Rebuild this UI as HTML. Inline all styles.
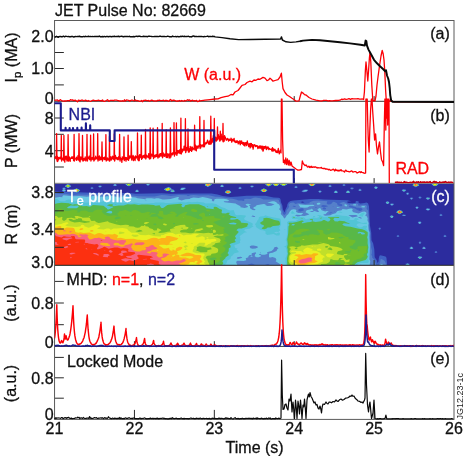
<!DOCTYPE html>
<html lang="en"><head><meta charset="utf-8"><title>JET Pulse No: 82669</title>
<style>
html,body{margin:0;padding:0;background:#fff;}
svg{display:block;font-family:'Liberation Sans', Arial, Helvetica, sans-serif;}
</style></head><body>
<svg width="466" height="459" viewBox="0 0 466 459">
<rect width="466" height="459" fill="#fff"/>
<defs>
<clipPath id="cpc"><rect x="54.55" y="183.30" width="399.45" height="82.00"/></clipPath>
<clipPath id="cpb"><rect x="54.55" y="98.30" width="399.45" height="85.00"/></clipPath>
<clipPath id="cpd"><rect x="54.55" y="264.30" width="399.45" height="83.10"/></clipPath>
</defs>
<g clip-path="url(#cpc)">
<rect x="54.55" y="183.30" width="399.45" height="82.00" fill="#2c2c9e"/>
<path fill="#3f62c4" fill-rule="evenodd" d="M112.9,185.3L114.6,183.7L115.6,183.7L117.1,185.3L116.6,185.9L114.6,186.1L113.6,185.9ZM125.0,184.3L125.6,183.7L127.1,183.3L130.2,183.3L131.6,183.6L132.3,184.3L130.6,185.9L128.6,186.3L127.6,186.1ZM145.8,184.3L146.6,183.6L149.6,183.7L150.2,184.3L148.6,185.8L147.6,185.9ZM204.8,185.3L204.8,184.3L205.6,183.5L206.8,183.3L210.2,183.3L211.6,183.6L212.3,184.3L210.6,185.8L207.6,187.1L206.8,186.3L205.6,186.1ZM264.8,184.3L265.5,183.6L266.9,183.3L270.2,183.3L272.5,184.0L274.6,183.3L278.5,183.5L279.5,184.3L277.5,186.1L274.5,186.1L272.5,184.6L270.5,185.9L268.9,186.3L268.5,186.7L266.5,185.8ZM279.6,184.3L280.5,183.5L281.8,183.3L286.5,183.5L287.5,184.3L286.5,185.1L285.4,185.3L284.5,186.1L282.5,186.1L281.8,185.3L280.5,185.1ZM308.2,184.3L309.5,183.4L314.5,183.5L315.6,184.3L313.5,186.1L310.5,186.1ZM342.2,185.3L343.5,183.8L344.5,183.9L345.8,185.3L344.5,186.0L343.5,186.1ZM412.2,185.3L413.5,183.7L415.0,183.3L417.5,183.5L419.3,185.3L418.5,186.1L417.3,186.3L416.5,187.1L415.5,187.2L414.5,186.3L413.5,186.2ZM431.3,184.3L432.5,183.5L433.6,183.3L437.5,183.5L438.5,184.3L436.5,186.1L433.5,186.1ZM64.7,186.3L66.6,184.5L69.6,184.5L71.3,186.3L70.6,187.1L69.3,187.3L68.6,188.0L67.6,188.1L66.8,187.3L65.6,187.1ZM219.9,186.3L221.6,184.6L222.6,184.6L224.2,186.3L223.6,186.9L221.6,187.1L220.6,187.0ZM328.0,186.3L329.5,184.7L330.5,184.8L332.0,186.3L330.5,187.1L329.5,187.1ZM97.9,186.3L98.6,185.7L99.6,185.5L101.6,185.7L102.1,186.3L100.6,187.6L99.6,187.7ZM249.9,186.3L250.6,185.7L251.6,185.5L253.6,185.7L254.1,186.3L252.6,187.6L251.6,187.7ZM294.0,187.3L295.5,185.7L296.5,185.8L298.0,187.3L296.5,188.1L295.5,188.1ZM90.2,188.3L91.6,186.8L92.6,186.9L93.8,188.3L92.6,189.1L91.6,189.1ZM163.7,189.3L164.6,188.5L165.6,188.4L166.6,187.5L168.0,187.3L168.6,186.7L169.1,187.3L170.6,187.6L172.2,189.3L173.6,189.6L175.2,191.3L174.6,192.0L172.7,192.3L172.6,192.6L172.4,192.3L170.6,191.9L169.6,190.8L166.6,191.2L164.6,190.1ZM170.1,190.3L170.6,190.8L170.9,190.3L170.6,190.2L170.1,190.3ZM238.0,188.3L239.6,186.7L240.6,186.8L242.0,188.3L240.6,189.1L239.6,189.1ZM373.9,187.3L374.5,186.7L375.5,186.5L377.5,186.7L378.2,187.3L376.5,189.1L375.5,189.1L374.3,188.3ZM54.5,191.4L62.5,191.9L62.7,191.3L61.7,190.3L62.9,189.3L62.0,188.3L62.5,187.8L64.6,187.5L66.0,188.3L65.1,189.3L66.3,190.3L65.4,191.3L65.6,191.9L73.6,192.3L73.8,191.3L72.8,190.3L73.6,189.5L74.8,189.3L75.6,188.6L76.6,188.4L77.6,188.6L78.6,189.4L79.6,189.5L80.3,190.3L78.6,192.3L77.6,192.3L104.6,193.2L129.6,193.1L135.6,193.7L161.6,193.2L170.6,193.8L192.6,193.4L211.6,193.6L217.6,194.5L222.6,195.9L230.6,197.1L238.6,196.6L246.6,195.7L265.5,195.8L273.5,197.5L278.5,197.8L279.9,198.3L280.5,199.3L281.0,202.3L282.3,205.3L282.9,209.3L284.5,212.6L285.6,209.3L287.1,206.3L287.4,204.3L288.6,202.3L290.5,201.1L293.5,200.4L310.5,199.0L318.5,198.9L323.5,199.4L347.4,200.3L351.2,201.3L347.5,201.6L347.1,202.3L348.5,203.1L352.5,203.3L354.5,202.9L356.1,202.3L355.5,201.3L356.5,200.9L358.7,201.3L358.3,202.3L359.5,203.2L360.5,203.5L364.5,203.1L366.5,202.4L368.0,203.3L369.0,206.3L369.9,225.3L371.2,232.3L371.5,240.3L373.1,243.3L374.3,249.3L374.7,257.3L376.8,260.3L377.5,263.1L378.5,261.5L378.8,258.3L379.5,255.7L380.5,255.2L385.5,256.6L386.2,257.3L386.5,258.3L387.2,265.3L54.5,265.3ZM75.4,192.3L75.5,192.3L75.6,192.3L75.5,192.3L75.4,192.3ZM301.0,202.3L302.5,202.8L304.5,202.3L302.5,201.6L301.5,201.7ZM359.2,209.3L359.6,209.4L360.0,209.3L359.6,209.2L359.2,209.3ZM179.9,189.3L181.6,187.6L184.6,187.5L185.6,187.7L186.1,188.3L184.6,189.6L182.6,190.1L180.6,190.0ZM350.0,188.3L350.5,187.8L351.5,187.5L353.5,187.8L354.0,188.3L352.5,189.4L351.5,189.6ZM260.1,190.3L261.5,189.4L262.5,189.3L263.5,188.4L264.5,188.5L265.5,189.3L266.5,189.4L267.6,190.3L265.5,192.1L262.5,192.1ZM358.0,190.3L359.5,188.7L360.5,188.8L362.0,190.3L360.5,191.1L359.5,191.1ZM134.8,191.3L136.6,189.6L137.6,189.6L139.2,191.3L138.6,192.1L135.6,192.1ZM301.3,191.3L303.5,189.8L304.5,189.6L307.5,189.6L308.3,190.3L306.5,191.9L303.5,192.2L302.5,192.1ZM401.6,190.3L402.5,189.5L405.5,189.5L406.4,190.3L404.5,192.0L403.5,192.0ZM224.6,192.3L225.6,191.0L227.6,190.3L229.6,190.4L231.4,192.3L230.6,193.1L229.4,193.3L228.6,194.1L227.6,194.1L226.7,193.3L225.6,193.2ZM318.0,191.3L319.5,190.5L320.5,190.5L322.0,191.3L320.5,192.8L319.5,192.9ZM333.6,192.3L335.5,190.5L336.5,190.6L338.2,192.3L337.5,192.9L334.5,193.1ZM345.7,192.3L347.5,190.5L348.5,190.5L350.3,192.3L349.5,193.1L346.5,193.1ZM405.9,193.3L406.5,192.7L408.5,192.6L409.2,193.3L408.9,194.3L407.5,195.1L406.3,194.3ZM418.2,197.3L419.5,196.5L420.5,196.5L421.8,197.3L420.5,198.7L419.5,198.8ZM409.6,198.3L410.5,197.6L412.5,197.6L413.4,198.3L411.5,199.9ZM425.6,198.3L426.5,197.5L429.5,197.5L430.4,198.3L428.5,200.0L427.5,200.0ZM385.5,202.3L386.5,201.5L388.5,201.5L389.5,202.3L389.2,203.3L388.5,203.9L387.5,204.1L386.5,204.0ZM389.8,204.3L390.5,203.6L393.5,203.6L394.2,204.3L392.5,205.8L391.5,205.9ZM415.1,207.3L416.5,206.5L417.5,206.5L418.9,207.3L417.5,209.0L416.5,209.0ZM425.4,209.3L426.5,208.5L429.5,208.5L430.5,209.3L428.5,210.7L427.5,210.8ZM396.0,212.3L397.5,210.6L398.9,210.3L399.5,209.6L400.2,210.3L401.5,210.5L403.3,212.3L402.5,213.1L401.3,213.3L400.5,214.0L399.5,214.2L398.1,213.3L396.5,212.9ZM439.2,215.3L440.5,213.8L441.5,213.9L442.8,215.3L441.5,216.1L440.5,216.1ZM401.9,215.3L402.5,214.7L403.5,214.4L405.5,214.7L406.2,215.3L405.5,215.9L402.5,215.9ZM389.8,216.3L390.5,215.6L392.5,215.5L394.0,216.3L392.5,218.1L391.5,218.1L390.0,217.3ZM417.8,222.3L418.5,221.6L420.5,221.5L421.5,222.3L421.2,223.3L420.5,224.0L419.5,224.1L418.1,223.3ZM378.3,228.3L379.5,227.6L380.5,227.8L381.1,228.3L380.6,229.3L379.5,229.9ZM396.4,236.3L397.5,235.0L398.5,235.1L399.5,236.3L398.5,237.0L397.5,237.0ZM443.2,236.3L444.5,234.8L445.5,234.9L446.8,236.3L445.5,237.1L444.5,237.1ZM418.6,242.3L419.5,241.6L420.5,241.6L421.4,242.3L420.5,243.9L419.5,243.9ZM409.2,248.3L410.5,246.8L411.5,246.5L412.5,247.0L413.6,248.3L412.5,249.1L410.5,249.1ZM421.9,248.3L423.5,246.6L424.5,246.7L426.1,248.3L425.5,248.9L424.5,249.1L422.5,248.9ZM434.4,252.3L435.5,251.0L436.5,251.1L437.5,252.3L436.5,253.0L435.5,253.0ZM417.3,257.3L418.5,256.5L421.5,256.5L422.5,257.3L420.5,259.0L419.5,259.1ZM405.1,264.3L405.5,263.8L407.5,263.2L409.5,263.7L410.1,264.3L408.6,265.3L406.6,265.3Z"/>
<path fill="#5580ca" fill-rule="evenodd" d="M113.4,185.3L114.6,184.1L115.6,184.2L116.5,185.3L115.6,185.9L114.6,185.9ZM125.5,184.3L127.6,183.3L129.8,183.3L131.9,184.3L129.6,186.0L128.6,186.1L127.6,185.9ZM146.2,184.3L147.6,183.7L148.6,183.7L149.8,184.3L148.6,185.2L147.6,185.3ZM205.0,185.3L205.0,184.3L205.6,183.8L207.1,183.3L209.8,183.3L211.9,184.3L209.6,186.0L207.6,186.8ZM265.2,184.3L267.3,183.3L269.9,183.3L272.2,184.3L269.5,186.0L268.5,186.2L267.5,186.0ZM272.7,184.3L273.5,183.7L274.8,183.3L277.2,183.3L278.5,183.7L279.3,184.3L277.5,185.8L275.5,186.1L274.5,185.9ZM279.9,184.3L282.1,183.3L285.1,183.3L287.2,184.3L284.5,185.8L283.5,186.0ZM308.6,184.3L309.5,183.6L310.7,183.3L313.3,183.3L314.5,183.6L315.4,184.3L313.5,185.9L311.5,186.1L310.5,185.9ZM412.7,185.3L413.5,184.2L415.5,183.3L417.5,183.7L419.1,185.3L418.5,185.8L415.5,187.0ZM431.7,184.3L432.5,183.7L433.8,183.3L436.2,183.3L437.5,183.7L438.3,184.3L436.5,185.8L434.5,186.1L433.5,185.8ZM65.0,186.3L66.6,184.7L67.6,184.5L69.6,184.8L71.0,186.3L68.6,187.7L67.6,187.8ZM220.3,186.3L221.6,184.9L222.6,185.0L223.7,186.3L222.6,186.9L221.6,186.9ZM328.6,186.3L329.5,185.2L330.5,185.4L331.4,186.3L330.5,186.8L329.5,186.8ZM342.8,185.3L343.5,184.5L344.5,184.6L345.2,185.3L344.5,185.7L343.5,185.8ZM98.4,186.3L99.6,185.8L100.6,185.8L101.6,186.3L100.6,187.1L99.6,187.1ZM250.4,186.3L251.6,185.8L252.6,185.8L253.6,186.3L252.6,187.1L251.6,187.1ZM294.6,187.3L295.5,186.2L296.5,186.4L297.4,187.3L296.5,187.8L295.5,187.8ZM238.6,188.3L239.6,187.2L240.6,187.4L241.4,188.3L240.6,188.8L239.6,188.8ZM374.3,187.3L375.5,186.6L376.5,186.7L377.7,187.3L376.5,188.8L375.5,188.8L374.8,188.3ZM64.6,187.8L65.4,188.3L64.6,189.2L64.1,189.3L65.9,190.3L64.6,191.4L63.5,191.6L62.1,190.3L63.5,189.3L62.6,188.3L63.5,187.8ZM90.8,188.3L91.6,187.5L92.6,187.6L93.2,188.3L92.6,188.7L91.6,188.8ZM164.0,189.3L166.6,187.8L168.6,187.3L170.6,188.0L171.6,189.3L173.6,190.1L174.6,191.3L173.6,192.0L171.6,191.9L170.6,191.3L171.5,190.3L170.6,190.0L167.6,191.1L166.6,191.0ZM180.3,189.3L181.6,187.9L184.6,187.8L185.6,188.3L182.6,189.9L181.6,189.9ZM350.6,188.3L351.5,187.8L352.5,187.8L353.4,188.3L352.5,188.9L351.5,189.0ZM73.1,190.3L76.6,188.5L80.1,190.3L78.6,191.6L76.6,192.3L75.6,192.1ZM260.6,190.3L263.5,188.6L264.5,188.7L267.4,190.3L265.5,191.9L263.5,192.1L262.5,191.9ZM358.6,190.3L359.5,189.2L360.5,189.4L361.4,190.3L360.5,190.8L359.5,190.8ZM135.3,191.3L136.6,189.9L137.6,190.0L138.8,191.3L137.6,192.0L136.6,192.0ZM301.9,191.3L305.5,189.7L307.5,189.9L307.9,190.3L306.5,191.4L304.5,191.8L302.5,191.8ZM401.9,190.3L402.5,189.8L403.5,189.6L405.5,189.8L406.1,190.3L404.5,191.5L403.5,191.6ZM224.9,192.3L226.6,190.6L227.6,190.4L229.6,190.6L231.2,192.3L228.6,193.9L227.6,193.9ZM318.6,191.3L319.5,190.8L320.5,190.8L321.4,191.3L320.5,192.2L319.5,192.4ZM333.9,192.3L335.5,190.8L336.5,191.0L337.7,192.3L336.5,192.9L334.5,192.8ZM346.0,192.3L347.5,190.8L348.5,190.8L350.0,192.3L349.5,192.7L347.5,193.0L346.5,192.8ZM406.4,193.3L407.5,192.8L408.8,193.3L408.3,194.3L407.5,194.8L406.9,194.3ZM54.5,193.3L61.5,193.9L65.6,193.8L72.6,195.2L78.6,194.6L85.6,194.8L97.6,194.3L104.6,195.4L112.6,195.0L119.6,195.8L123.6,195.0L126.6,194.8L138.6,196.3L147.6,196.6L151.6,196.4L154.6,196.6L161.6,195.1L165.6,195.3L170.6,196.0L175.6,195.6L178.6,195.0L186.4,195.3L187.6,195.9L188.6,195.9L190.5,195.3L193.6,195.0L199.6,195.4L208.6,195.2L215.6,196.7L218.6,196.7L229.6,198.6L232.6,198.7L236.6,199.7L238.6,200.6L241.6,200.6L243.6,201.1L244.4,200.3L244.1,199.3L244.6,199.0L246.6,198.7L250.6,199.0L253.6,197.8L255.6,197.4L260.5,198.2L263.5,199.5L277.5,199.5L278.5,199.7L278.9,200.3L279.1,201.3L280.7,204.3L281.4,206.3L281.4,208.3L282.4,211.3L282.7,213.3L283.5,214.5L284.5,215.0L286.1,213.3L286.6,210.3L288.4,208.3L289.2,206.3L288.5,205.3L288.9,204.3L290.5,202.7L293.5,202.6L295.5,204.0L298.5,203.1L304.5,203.9L309.8,203.3L309.5,202.3L313.5,200.7L317.5,200.6L327.4,201.3L326.6,203.3L327.5,204.2L328.5,204.6L330.5,204.2L332.0,203.3L332.5,202.3L333.5,201.8L334.5,201.9L337.0,203.3L337.7,205.3L340.5,206.3L341.5,206.3L342.5,205.3L341.5,204.1L339.1,203.3L343.5,202.1L344.5,202.3L349.5,204.9L350.0,204.3L356.5,203.5L357.5,203.8L358.1,204.3L358.5,205.7L363.5,204.7L365.5,205.0L366.5,205.5L367.0,206.3L366.6,208.3L366.8,209.3L368.0,210.3L368.8,218.3L368.7,220.3L369.2,223.3L369.1,225.3L369.5,230.3L370.3,233.3L370.2,236.3L370.5,241.6L371.1,244.3L371.1,247.3L371.9,250.3L371.9,253.3L371.4,254.3L371.6,255.3L372.3,256.3L372.0,257.3L374.6,260.3L376.4,265.3L269.9,265.3L268.5,264.1L267.5,264.0L264.3,265.3L256.7,265.3L254.6,264.8L252.6,263.7L251.6,263.6L248.6,264.3L247.3,265.3L54.5,265.3ZM312.6,203.3L313.6,203.4L314.3,203.3L313.6,203.1L312.6,203.3ZM321.0,206.3L322.5,207.0L324.5,207.2L328.1,206.3L326.5,205.4L323.5,205.1L322.1,205.3ZM292.4,206.3L294.5,206.9L295.5,206.8L296.1,206.3L293.5,205.8ZM331.9,206.3L333.5,206.6L333.8,206.3ZM349.1,206.3L349.3,207.3L353.5,208.0L355.5,208.7L356.0,209.3L359.5,211.0L360.5,211.1L361.5,210.6L362.6,209.3L361.7,208.3L358.5,207.7L356.5,207.7L356.2,207.3L350.5,205.4L349.5,205.5ZM315.1,207.3L315.5,208.0L317.3,207.3ZM303.2,208.3L301.3,208.3L298.5,209.3L298.4,211.3L300.5,211.6L303.5,210.6L303.9,210.3ZM322.5,208.3L323.0,209.3L324.5,209.6L325.9,209.3L326.1,208.3L324.5,207.4L323.5,207.4ZM333.7,211.3L334.6,211.5L334.9,211.3L334.6,211.1L333.7,211.3ZM332.7,212.3L330.9,212.3L328.8,213.3L331.0,213.3L331.5,212.7ZM418.8,197.3L419.5,196.8L420.5,196.9L421.2,197.3L420.5,198.0L419.5,198.1ZM410.1,198.3L411.5,197.8L412.9,198.3L411.5,199.4ZM425.9,198.3L426.5,197.8L427.5,197.6L429.5,197.8L430.1,198.3L428.5,199.5L427.5,199.6ZM296.6,202.3L297.6,202.3L297.6,202.3L297.6,202.4L296.6,202.3L296.2,202.3L296.6,202.3ZM385.9,202.3L386.5,201.8L387.5,201.6L388.5,201.8L389.1,202.3L388.7,203.3L387.5,204.0L386.5,203.6ZM390.2,204.3L391.5,203.7L392.5,203.7L393.8,204.3L392.5,205.2L391.5,205.3ZM415.7,207.3L416.5,206.7L417.5,206.8L418.3,207.3L417.5,208.6L416.5,208.7ZM425.9,209.3L426.5,208.8L427.5,208.6L429.5,208.8L430.1,209.3L428.5,210.2L427.5,210.2ZM396.5,212.3L397.5,211.0L399.5,210.1L401.5,210.7L403.0,212.3L399.5,214.0ZM402.4,215.3L403.5,214.7L405.6,215.3L404.5,215.8ZM439.8,215.3L440.5,214.5L441.5,214.6L442.2,215.3L441.5,215.7L440.5,215.8ZM390.2,216.3L391.5,215.6L392.5,215.7L393.4,216.3L392.5,217.7L391.5,217.9L390.6,217.3ZM418.2,222.3L419.5,221.7L420.5,221.8L421.2,222.3L420.5,223.5L419.5,223.9L418.7,223.3ZM379.5,227.9L380.4,228.3L379.5,229.5L379.0,228.3ZM397.0,236.3L397.5,235.7L398.5,235.8L399.0,236.3L397.5,236.7ZM443.8,236.3L444.5,235.5L445.5,235.6L446.2,236.3L445.5,236.7L444.5,236.8ZM419.0,242.3L419.5,241.9L421.0,242.3L420.5,243.3L419.5,243.4ZM413.2,248.3L412.5,248.8L410.5,248.8L409.8,248.3L411.5,246.8ZM422.4,248.3L423.5,247.1L424.5,247.2L425.5,248.3L424.5,248.9L423.5,248.9ZM435.0,252.3L435.5,251.7L436.5,251.8L437.0,252.3L435.5,252.7ZM417.8,257.3L418.5,256.7L419.5,256.6L421.5,256.8L422.2,257.3L420.5,258.7L419.5,258.7ZM380.5,259.2L381.5,258.9L384.5,260.8L385.5,262.8L386.0,264.3L385.9,265.3L379.2,265.3L379.2,264.3L380.1,262.3ZM405.7,264.3L407.5,263.5L409.5,264.3L408.2,265.3L407.0,265.3Z"/>
<path fill="#6ac8e3" fill-rule="evenodd" d="M125.8,184.3L127.9,183.3L129.4,183.3L131.6,184.3L129.6,185.8L128.6,186.0L127.6,185.6ZM146.7,184.3L147.6,184.0L149.3,184.3L148.6,184.8L147.6,184.9ZM205.3,185.3L205.6,184.0L207.4,183.3L209.4,183.3L211.5,184.3L209.6,185.8L207.6,186.5ZM265.6,184.3L267.7,183.3L269.5,183.3L271.7,184.3L269.5,185.8L268.5,186.1L267.5,185.8ZM273.0,184.3L275.1,183.3L276.9,183.3L279.0,184.3L277.5,185.5L275.5,186.0L274.5,185.6ZM280.2,184.3L282.4,183.3L284.8,183.3L286.9,184.3L283.5,185.9ZM308.9,184.3L311.0,183.3L313.0,183.3L315.1,184.3L313.5,185.6L311.5,186.0L310.5,185.7ZM412.9,185.3L414.5,183.7L415.5,183.4L417.5,183.9L418.8,185.3L415.5,186.8ZM432.0,184.3L434.1,183.3L435.9,183.3L438.0,184.3L436.5,185.5L434.5,185.9L433.5,185.6ZM65.3,186.3L66.6,185.0L67.6,184.6L69.6,185.0L70.7,186.3L68.6,187.4L67.6,187.5ZM113.9,185.3L114.6,184.5L115.6,184.6L116.1,185.3L115.6,185.6ZM220.7,186.3L221.6,185.3L222.6,185.4L223.3,186.3L222.6,186.7L221.6,186.7ZM343.3,185.3L343.5,185.0L344.7,185.3ZM98.9,186.3L99.6,186.0L101.1,186.3L100.6,186.7L99.6,186.7ZM250.9,186.3L251.6,186.0L253.1,186.3L252.6,186.7L251.6,186.7ZM329.1,186.3L329.5,185.8L330.5,185.8L331.0,186.3L329.5,186.6ZM295.1,187.3L295.5,186.8L296.5,186.8L297.0,187.3L295.5,187.6ZM374.7,187.3L375.5,186.8L376.5,186.9L377.3,187.3L376.5,188.5L375.5,188.6ZM63.1,188.3L63.5,188.0L65.0,188.3L64.6,188.8L63.5,188.8ZM91.3,188.3L91.6,188.0L92.7,188.3ZM164.3,189.3L168.6,187.5L170.5,188.3L171.3,189.3L167.6,191.0L166.6,190.8ZM180.7,189.3L181.6,188.3L184.6,188.0L185.1,188.3L182.6,189.7L181.6,189.7ZM239.1,188.3L239.6,187.8L240.6,187.8L241.0,188.3L239.6,188.6ZM351.2,188.3L352.8,188.3L351.5,188.5ZM73.5,190.3L76.6,188.7L79.8,190.3L77.6,192.0L76.6,192.2L75.6,191.9ZM260.9,190.3L263.5,188.8L264.5,188.9L267.1,190.3L265.5,191.7L263.5,192.0L262.5,191.7ZM62.4,190.3L63.5,189.6L64.6,189.7L65.6,190.3L64.6,191.0L63.5,191.1ZM135.7,191.3L136.6,190.3L137.6,190.4L138.3,191.3L137.6,191.7L136.6,191.7ZM170.9,191.3L172.6,189.9L174.3,191.3L172.6,191.9ZM302.3,191.3L305.5,189.9L307.6,190.3L306.5,191.0L304.5,191.6ZM359.1,190.3L359.5,189.8L360.5,189.8L361.0,190.3L359.5,190.6ZM402.3,190.3L403.5,189.8L405.7,190.3L404.5,191.1L403.5,191.2ZM225.1,192.3L226.6,190.8L227.6,190.5L229.6,190.8L230.9,192.3L228.6,193.6L227.6,193.7ZM319.1,191.3L319.5,191.0L321.0,191.3L320.5,191.8L319.5,191.8ZM334.3,192.3L335.5,191.0L336.5,191.4L337.3,192.3L336.5,192.7L335.5,192.8ZM346.3,192.3L347.5,191.0L348.5,191.1L349.7,192.3L348.5,192.8L347.5,192.8ZM407.5,193.0L408.2,193.3L407.5,194.5L407.0,193.3ZM54.5,197.7L59.5,197.1L62.5,197.3L62.3,196.3L63.5,195.3L72.6,196.3L79.6,196.0L86.6,196.7L93.6,196.1L103.6,196.8L106.6,196.3L112.6,196.0L119.6,197.4L123.6,196.3L126.6,196.1L130.6,197.0L135.6,197.5L137.6,198.3L143.6,198.9L144.6,199.3L146.6,198.3L151.6,198.2L154.6,198.8L156.1,198.3L158.6,198.2L162.6,199.6L164.6,199.6L170.6,198.9L177.6,197.0L179.2,197.3L178.4,198.3L178.1,199.3L181.6,200.5L185.6,199.3L189.6,199.1L190.6,198.3L193.6,197.6L198.6,197.9L202.6,197.1L207.6,198.0L212.1,199.3L211.8,200.3L212.6,201.2L214.0,201.3L214.5,199.3L216.6,198.8L223.6,198.8L226.5,199.3L229.0,200.3L228.6,200.9L227.6,201.2L223.6,201.2L224.6,202.3L235.6,203.4L236.6,204.3L240.5,206.3L240.4,207.3L244.6,208.1L247.5,207.3L248.0,206.3L246.1,205.3L245.5,204.3L247.6,203.7L251.4,204.3L249.6,204.8L248.9,205.3L250.1,206.3L250.0,208.3L252.6,209.9L254.6,210.3L255.7,209.3L254.6,209.1L253.2,208.3L253.7,207.3L256.0,206.3L256.5,205.2L263.5,204.0L265.3,204.3L265.6,205.3L267.5,206.0L271.5,205.7L274.5,204.3L267.1,202.3L269.5,202.1L272.3,201.3L274.1,201.3L276.5,202.3L276.9,203.3L278.5,203.9L279.5,205.0L280.1,207.3L279.1,209.3L280.5,210.5L281.2,212.3L280.8,213.3L281.0,214.3L282.9,216.3L284.1,218.3L284.5,218.6L285.5,217.6L286.8,215.3L288.2,214.3L289.9,211.3L291.5,209.8L293.5,209.2L295.5,209.5L296.5,210.2L295.9,211.3L296.6,212.3L298.5,212.9L302.5,212.9L303.2,213.3L301.5,214.8L300.5,215.1L296.5,214.8L294.9,215.3L297.5,216.4L299.7,216.3L300.5,215.8L304.5,216.1L308.5,214.8L309.3,214.3L305.5,212.3L306.6,210.3L311.2,209.3L311.5,208.5L313.5,210.3L312.5,210.9L309.3,211.3L311.5,212.1L312.5,212.0L314.5,211.1L317.5,212.1L318.5,211.9L319.0,211.3L317.7,210.3L317.5,209.3L319.5,208.1L320.5,208.3L321.6,210.3L324.5,211.3L325.5,211.4L326.5,211.0L328.9,211.3L327.5,212.0L325.5,214.3L323.5,214.3L323.8,215.3L325.5,215.8L330.5,215.2L332.1,214.3L335.6,213.3L337.5,210.9L341.5,210.3L342.5,209.1L346.5,209.5L349.5,208.7L351.5,208.6L352.8,209.3L352.2,210.3L352.4,211.3L353.5,212.3L358.5,213.5L362.5,211.8L364.5,211.6L366.1,212.3L366.5,213.3L366.2,214.3L365.2,215.3L365.5,215.8L366.5,215.9L367.7,218.3L367.4,220.3L368.6,223.3L368.2,225.3L368.6,230.3L369.5,232.3L369.3,236.3L369.9,246.3L369.4,259.3L370.3,261.3L369.7,265.3L363.0,265.3L360.5,264.8L359.5,265.3L279.7,265.3L280.2,264.3L275.6,261.3L276.3,260.3L276.3,259.3L275.5,258.0L272.5,256.9L270.5,257.4L269.0,257.3L269.0,254.3L269.5,253.3L272.5,252.8L276.5,250.9L277.3,249.3L278.5,248.3L276.5,246.7L274.4,247.3L273.5,249.3L271.5,251.1L266.9,252.3L267.7,253.3L266.5,254.2L264.5,254.7L261.5,254.7L260.5,253.7L258.8,254.3L259.5,254.9L260.5,255.0L261.0,256.3L258.8,257.3L256.5,257.3L254.7,256.3L255.1,254.3L256.2,253.3L255.6,252.3L251.6,253.3L251.9,254.3L251.6,254.8L249.3,255.3L248.4,256.3L248.4,257.3L245.7,258.3L246.3,260.3L243.6,261.0L237.6,260.7L236.6,261.3L236.2,262.3L236.4,263.3L237.3,264.3L236.8,265.3L54.5,265.3ZM145.2,200.3L146.7,200.3L145.6,199.6ZM348.5,215.3L352.5,217.5L354.5,216.9L357.5,216.6L357.7,216.3L356.9,215.3L355.5,215.0L349.5,214.9ZM251.3,216.3L253.6,217.0L254.6,216.9L255.3,216.3L252.6,215.6ZM358.0,217.3L360.5,218.5L362.3,218.3L360.5,217.2L358.5,217.0ZM284.4,229.3L284.5,229.6L285.6,229.3ZM249.8,246.3L249.9,247.3L250.6,248.2L252.6,248.7L255.6,248.4L258.2,247.3L257.1,246.3L253.6,245.5L251.6,245.6ZM260.1,252.3L260.6,252.8L261.0,252.3L260.6,251.9L260.1,252.3ZM236.7,258.3L237.6,258.8L238.6,258.8L241.6,258.0L242.3,257.3L240.6,256.7L237.4,257.3ZM419.3,197.3L420.7,197.3L419.5,197.6ZM411.6,198.1L412.2,198.3L411.5,198.7L410.6,198.3L411.6,198.1ZM426.3,198.3L427.5,197.8L429.7,198.3L428.5,199.1L427.5,199.2ZM386.2,202.3L387.5,201.8L388.8,202.3L388.3,203.3L387.5,203.8L386.7,203.3ZM316.9,203.3L318.5,202.7L319.5,202.8L320.4,203.3L320.2,204.3L318.5,204.8L317.5,204.7L316.8,204.3ZM298.5,204.3L305.5,204.9L312.5,204.8L314.5,205.3L313.5,205.9L309.5,206.2L307.5,207.5L304.5,207.7L299.6,207.3L300.0,206.3L298.9,205.3ZM344.5,204.5L345.5,204.2L347.3,205.3L346.5,206.4L345.5,206.2L344.3,205.3ZM352.9,205.3L353.5,204.3L356.0,204.3L356.0,205.3L355.5,205.5ZM390.7,204.3L391.5,203.9L393.3,204.3L392.5,204.8L391.5,204.9ZM361.4,207.3L361.5,206.2L363.5,205.9L365.1,206.3L364.5,207.5ZM336.5,207.3L337.5,206.9L340.3,207.3L337.5,208.0ZM416.1,207.3L416.5,207.0L417.9,207.3L417.5,208.2L416.5,208.3ZM426.2,209.3L427.5,208.8L429.8,209.3L428.5,209.9L427.5,209.9ZM396.7,212.3L397.6,211.3L399.5,210.4L401.5,211.0L402.7,212.3L399.5,213.9ZM403.6,215.1L404.6,215.1L404.9,215.3L404.6,215.5L403.6,215.5L403.1,215.3L403.6,215.1ZM440.3,215.3L440.5,215.0L441.7,215.3ZM390.5,216.3L391.5,215.8L393.1,216.3L392.5,217.4L391.5,217.7L391.0,217.3ZM420.8,222.3L420.3,223.3L419.5,223.6L419.0,223.3L418.6,222.3L419.5,221.9ZM444.3,236.3L444.5,236.0L445.7,236.3ZM419.6,242.3L420.1,242.3L419.5,242.4L419.5,242.3L419.6,242.3ZM412.8,248.3L411.5,248.7L410.2,248.3L411.5,247.0ZM422.9,248.3L423.5,247.5L424.5,247.6L425.1,248.3L424.5,248.7ZM250.1,256.3L251.6,255.6L252.9,256.3L251.6,256.7ZM418.1,257.3L419.5,256.7L421.9,257.3L420.5,258.3L419.5,258.4ZM380.4,264.3L381.5,263.9L382.7,264.3L382.7,265.3L380.5,265.3ZM406.0,264.3L407.5,263.8L409.2,264.3L407.8,265.3Z"/>
<path fill="#52c4d6" fill-rule="evenodd" d="M126.2,184.3L128.3,183.3L129.0,183.3L131.2,184.3L129.6,185.6L128.6,185.8ZM147.6,184.2L148.6,184.2L148.8,184.3L148.6,184.5L147.6,184.5L147.3,184.3L147.6,184.2ZM205.5,185.3L205.6,184.3L207.7,183.3L209.2,183.3L211.3,184.3L209.6,185.7L207.6,186.2ZM265.8,184.3L267.9,183.3L269.3,183.3L271.4,184.3L269.5,185.7L268.5,186.0ZM273.2,184.3L275.3,183.3L276.7,183.3L278.8,184.3L276.5,185.8L275.5,185.8ZM280.6,184.3L282.7,183.3L284.5,183.3L286.6,184.3L283.5,185.7ZM309.1,184.3L311.2,183.3L312.8,183.3L314.9,184.3L313.5,185.4L311.5,185.9ZM413.1,185.3L413.9,184.3L415.5,183.5L417.5,184.2L418.5,185.3L415.5,186.6ZM432.3,184.3L434.4,183.3L435.6,183.3L437.7,184.3L435.5,185.8L434.5,185.8ZM65.6,186.3L66.6,185.2L67.6,184.8L69.6,185.3L70.4,186.3L68.6,187.1L67.6,187.2ZM114.3,185.3L114.6,185.0L115.7,185.3ZM221.1,186.3L221.6,185.8L222.6,185.9L222.9,186.3ZM375.1,187.3L375.5,187.0L376.9,187.3L376.5,188.2L375.5,188.3ZM164.6,189.3L168.6,187.6L170.2,188.3L171.0,189.3L167.6,190.9ZM73.7,190.3L76.6,188.8L79.5,190.3L77.6,191.8L76.6,192.0L75.6,191.8ZM181.1,189.3L181.6,188.8L182.6,188.9L182.9,189.3ZM261.1,190.3L263.5,189.0L264.5,189.1L266.9,190.3L265.5,191.4L263.5,191.9ZM63.0,190.3L63.5,190.0L65.1,190.3L63.5,190.7ZM171.3,191.3L172.6,190.1L173.9,191.3L172.6,191.7ZM305.0,190.3L307.1,190.3L305.5,190.7ZM402.7,190.3L403.5,190.0L405.3,190.3L404.5,190.8L403.5,190.9ZM136.1,191.3L136.6,190.8L137.6,190.9L137.9,191.3L136.6,191.5ZM225.3,192.3L226.6,191.0L227.6,190.6L229.6,191.0L230.7,192.3L228.6,193.4L227.6,193.5ZM334.7,192.3L335.5,191.3L337.0,192.3L335.5,192.6ZM346.7,192.3L347.5,191.3L348.5,191.4L349.3,192.3L347.5,192.6ZM426.7,198.3L427.5,198.0L429.3,198.3L428.5,198.8L427.5,198.9ZM54.5,265.3L54.5,199.1L57.6,199.3L59.5,200.9L61.4,201.3L65.4,201.3L65.7,200.3L68.6,199.6L71.6,199.8L73.6,201.2L74.6,201.5L79.6,200.4L80.6,200.7L82.3,202.3L84.6,202.7L89.6,202.5L96.6,203.0L104.6,200.9L105.6,201.3L105.8,202.3L106.6,202.5L109.6,202.5L111.6,202.0L114.6,202.0L122.6,203.2L124.6,203.0L130.3,203.3L134.6,202.6L139.3,203.3L143.6,203.5L153.6,203.0L155.6,202.6L163.6,202.5L165.6,202.9L170.6,203.1L180.6,202.1L185.6,202.5L188.6,201.7L191.6,202.2L195.6,202.1L197.6,201.7L198.6,202.1L203.6,202.5L205.6,203.4L212.6,203.3L216.5,204.3L221.6,207.3L224.6,208.0L227.6,209.7L230.6,210.4L233.6,210.1L235.2,214.3L236.6,215.3L240.6,214.9L245.6,215.5L246.0,216.3L244.1,218.3L244.6,219.7L252.4,223.3L253.0,224.3L252.0,225.3L253.6,226.3L249.6,228.7L245.1,229.3L244.3,230.3L244.6,231.1L247.1,232.3L244.6,232.5L239.5,236.3L240.3,237.3L240.1,238.3L240.6,240.3L239.8,241.3L240.3,242.3L239.7,243.3L234.4,245.3L234.8,247.3L235.6,248.2L237.8,248.3L236.6,248.9L236.4,249.3L238.6,251.3L238.6,252.3L234.6,253.2L233.6,254.1L232.9,255.3L231.4,256.3L230.7,257.3L230.7,258.3L230.1,259.3L227.5,260.3L226.5,263.3L224.6,265.3ZM386.6,202.3L387.5,202.0L388.4,202.3L388.0,203.3L387.5,203.6L387.1,203.3ZM391.6,204.2L392.6,204.2L392.8,204.3L392.6,204.5L391.5,204.5L391.3,204.3L391.6,204.2ZM303.6,206.3L303.7,206.3L303.6,206.3L303.3,206.3L303.6,206.3ZM416.6,207.2L417.5,207.3L416.5,207.5L416.5,207.3L416.6,207.2ZM426.6,209.3L427.5,209.1L429.3,209.3L427.5,209.6ZM291.2,213.3L291.5,211.8L292.5,211.0L294.5,213.1L295.6,213.3L292.5,213.8L291.5,213.7ZM396.9,212.3L397.8,211.3L399.5,210.5L401.5,211.2L402.5,212.3L399.5,213.7ZM321.6,212.3L321.6,212.3L321.6,212.3L321.5,212.3L321.6,212.3ZM338.2,212.3L339.5,211.6L342.5,212.3L341.5,212.8ZM363.5,212.5L364.8,213.3L363.1,215.3L363.1,216.3L362.5,216.7L359.9,216.3L359.1,215.3L361.4,213.3ZM258.9,217.3L260.5,216.4L263.8,216.3L265.5,215.2L268.2,216.3L272.5,217.3L279.5,218.4L280.5,219.1L281.2,224.3L279.1,228.3L280.4,230.3L278.9,231.3L278.5,232.1L276.5,231.8L274.4,232.3L274.5,232.7L276.5,233.6L278.5,232.4L279.5,232.7L280.0,233.3L279.5,235.3L278.5,235.6L276.5,235.4L273.5,234.0L267.5,235.1L266.5,234.6L265.3,233.3L265.6,232.3L265.4,231.3L262.9,230.3L260.5,229.9L256.2,227.3L255.7,226.3L255.8,225.3L254.9,224.3L256.6,222.3L257.5,220.2L258.6,219.3ZM274.6,215.3L275.6,215.2L275.9,215.3L275.6,215.4L274.6,215.3L274.4,215.3L274.6,215.3ZM287.0,222.3L288.5,221.1L295.5,220.9L298.8,219.3L292.5,218.9L291.5,217.3L292.5,216.3L293.5,215.9L297.5,217.3L301.5,216.9L303.5,217.2L304.5,217.7L305.5,218.9L306.5,219.2L313.5,217.4L316.5,218.0L319.0,217.3L319.0,216.3L317.1,215.3L317.5,215.1L320.7,215.3L322.2,216.3L324.5,217.2L328.5,216.5L333.5,216.2L336.5,214.7L342.5,215.8L346.5,216.0L350.0,217.3L350.0,218.3L348.9,219.3L350.5,219.9L353.5,219.9L354.4,219.3L354.7,218.3L355.5,217.9L357.5,218.2L359.1,219.3L356.6,220.3L357.5,221.3L361.5,222.8L363.5,222.9L366.5,222.5L367.2,223.3L366.5,223.9L364.5,224.0L359.5,223.2L357.5,223.8L356.3,225.3L357.8,226.3L358.6,227.3L359.5,227.5L362.4,227.3L362.8,226.3L364.5,225.7L366.5,225.8L367.1,226.3L366.9,227.3L366.2,228.3L368.5,231.9L368.8,233.3L368.6,236.3L369.1,246.3L368.5,254.3L368.7,256.3L368.2,259.3L368.8,261.3L368.7,262.3L367.5,262.9L360.5,263.0L358.5,263.8L356.9,265.3L284.6,265.3L285.5,265.2L286.1,264.3L285.5,262.3L285.7,260.3L285.4,258.3L286.5,256.1L287.0,253.3L286.4,249.3L285.5,246.9L283.7,246.3L285.5,246.0L286.5,244.9L286.6,241.3L285.7,240.3L285.8,239.3L286.7,237.3L287.0,233.3L287.0,227.3L287.5,225.3ZM312.8,216.3L314.5,215.9L315.5,216.3L314.5,217.0L313.5,217.2ZM392.7,216.3L392.0,217.3L391.5,217.5L390.9,216.3L391.5,216.0ZM420.3,222.3L419.8,223.3L419.4,223.3L419.1,222.3ZM412.4,248.3L411.5,248.5L410.5,248.3L411.5,247.3ZM423.3,248.3L423.5,248.0L424.7,248.3ZM418.4,257.3L419.5,256.9L421.6,257.3L420.5,258.0L419.5,258.0ZM406.4,264.3L407.5,264.0L408.8,264.3L407.5,265.0Z"/>
<path fill="#58b848" fill-rule="evenodd" d="M126.5,184.3L128.6,183.3L130.9,184.3L129.6,185.4L128.6,185.7ZM205.8,185.3L205.8,184.3L208.0,183.3L208.9,183.3L211.0,184.3L208.6,185.9L207.6,186.1ZM266.1,184.3L268.2,183.3L269.0,183.3L271.1,184.3L268.5,185.9ZM273.5,184.3L275.5,183.3L276.5,183.4L278.5,184.3L276.5,185.7L275.5,185.7ZM280.9,184.3L283.0,183.3L284.2,183.3L286.3,184.3L283.5,185.6ZM309.3,184.3L311.4,183.3L312.6,183.3L314.7,184.3L312.5,185.8L311.5,185.8ZM413.3,185.3L414.1,184.3L415.5,183.6L417.5,184.3L418.3,185.3L415.5,186.4ZM432.5,184.3L434.5,183.4L435.5,183.4L437.5,184.3L435.5,185.7L434.5,185.7ZM65.9,186.3L66.7,185.3L67.6,184.9L69.3,185.3L70.1,186.3L67.6,187.0ZM375.4,187.3L376.6,187.3L375.5,187.6ZM164.8,189.3L168.6,187.8L169.9,188.3L170.7,189.3L167.6,190.8ZM73.9,190.3L76.6,189.0L79.3,190.3L77.6,191.6L76.6,191.9L75.6,191.6ZM261.3,190.3L263.5,189.2L264.5,189.2L266.7,190.3L264.5,191.8L263.5,191.8ZM171.6,191.3L172.6,190.3L173.6,191.3ZM403.6,190.2L404.6,190.2L404.8,190.3L404.6,190.5L403.5,190.5L403.3,190.3L403.6,190.2ZM225.5,192.3L226.6,191.1L227.6,190.7L229.6,191.2L230.5,192.3L228.6,193.2L227.6,193.3ZM335.3,192.3L335.5,191.9L336.6,192.3ZM347.1,192.3L347.5,191.8L348.5,191.9L348.9,192.3ZM427.6,198.2L428.6,198.2L428.8,198.3L428.6,198.5L427.6,198.5L427.3,198.3L427.6,198.2ZM387.5,202.2L387.8,202.3L387.5,203.4L387.2,202.3ZM54.5,265.3L54.5,204.0L57.5,203.2L61.5,202.8L68.6,203.2L72.6,204.8L74.6,204.2L77.3,204.3L82.6,206.2L86.6,206.0L89.6,206.8L91.0,206.3L92.3,205.3L93.6,205.1L103.6,205.7L105.6,207.6L106.8,208.3L107.3,209.3L108.6,209.5L113.3,207.3L112.6,206.6L110.6,206.5L106.8,205.3L109.6,204.3L113.0,204.3L112.3,205.3L113.6,206.2L118.6,205.5L123.6,205.5L127.6,204.3L130.6,204.6L134.6,204.2L138.6,204.9L141.6,204.5L147.6,204.4L153.6,205.0L155.6,205.7L159.6,205.3L160.8,207.3L161.6,208.0L162.6,208.1L163.6,207.8L167.0,205.3L168.6,204.7L180.6,203.8L182.4,204.3L181.4,205.3L181.6,206.5L182.6,207.2L183.6,207.2L184.6,206.5L185.1,205.3L189.6,204.2L198.8,204.3L204.6,206.4L205.5,207.3L206.0,208.3L214.6,209.3L213.4,208.3L213.8,207.3L214.6,206.8L216.6,206.9L219.6,208.9L221.6,209.4L222.0,210.3L221.5,212.3L222.0,213.3L225.6,213.6L227.6,212.7L229.6,212.8L229.8,213.3L228.6,214.3L230.6,215.8L236.5,217.3L235.6,217.9L231.6,217.8L230.6,218.2L229.6,219.3L231.6,219.7L234.6,219.5L236.6,218.9L237.6,219.1L240.6,221.1L240.8,222.3L241.6,222.8L247.6,223.2L248.3,224.3L247.3,225.3L247.5,226.3L245.6,227.3L241.6,228.6L238.6,228.5L237.6,228.9L236.4,230.3L238.3,231.3L238.6,232.3L235.0,236.3L235.4,237.3L236.3,238.3L235.0,239.3L234.6,240.3L235.6,241.2L235.3,242.3L231.6,243.3L229.5,244.3L230.4,245.3L230.7,247.3L228.8,248.3L228.7,251.3L227.9,252.3L227.6,253.3L228.5,254.3L228.8,255.3L225.7,257.3L225.4,258.3L222.3,261.3L223.4,263.3L221.9,265.3ZM67.1,207.3L67.8,208.3L76.6,208.3L78.2,207.3L78.8,206.3L77.6,205.5L74.6,205.8L71.6,205.5L70.6,205.6ZM106.0,212.3L107.6,212.9L110.6,213.5L111.8,213.3L112.3,212.3L111.9,211.3L109.6,210.8ZM208.6,214.3L209.6,214.4L209.9,214.3L209.6,214.1L208.6,214.3ZM228.4,223.3L230.3,224.3L235.6,224.5L236.7,223.3L233.6,222.6ZM114.3,204.3L116.9,204.3L115.6,204.6ZM160.6,204.3L160.9,204.3L160.6,204.6L160.4,204.3L160.6,204.3ZM206.6,206.3L207.6,206.1L208.5,206.3L207.6,206.5L206.6,206.3L206.5,206.3L206.6,206.3ZM397.1,212.3L398.0,211.3L399.5,210.6L401.4,211.3L402.3,212.3L399.5,213.6ZM391.6,216.2L392.1,216.3L391.6,216.9L391.3,216.3L391.6,216.2ZM293.0,217.3L293.5,217.0L295.1,217.3L294.5,217.8L293.5,217.7ZM367.7,232.3L367.7,235.3L367.1,237.3L367.7,239.3L367.6,243.3L368.3,247.3L367.8,250.3L367.9,252.3L366.9,254.3L367.0,255.3L367.7,256.3L367.5,257.3L366.5,259.1L365.5,259.9L357.4,262.3L354.9,264.3L354.4,265.3L287.3,265.3L287.0,258.3L288.0,253.3L287.6,252.3L287.6,249.3L287.1,247.3L287.8,244.3L287.2,239.3L288.2,233.3L288.5,226.3L289.3,225.3L289.3,224.3L288.5,223.6L288.5,222.9L289.5,222.5L292.5,222.8L296.5,222.1L301.5,220.4L302.5,220.4L304.0,221.3L302.0,222.3L301.7,223.3L303.0,223.3L307.5,222.2L310.5,222.0L312.5,221.3L311.9,220.3L309.5,219.4L310.5,219.1L313.0,219.3L312.6,221.3L315.5,222.0L321.3,221.3L323.5,219.9L324.5,220.0L327.5,221.5L328.5,221.4L329.5,220.9L330.5,219.3L329.5,218.3L328.5,218.1L327.8,217.3L338.5,217.1L339.5,217.3L338.5,217.9L334.5,217.8L333.2,219.3L334.2,220.3L334.5,221.3L337.5,221.5L339.5,220.7L344.5,221.2L347.5,222.7L350.1,223.3L348.5,223.8L344.5,223.2L343.5,223.4L342.3,224.3L343.1,225.3L345.5,226.2L350.5,226.7L357.5,228.6L362.2,229.3L364.8,230.3ZM291.1,225.3L293.5,225.5L294.2,225.3L295.0,224.3L293.5,224.0L292.5,224.1ZM357.5,233.3L358.5,233.5L360.5,233.0L361.4,234.3L362.5,234.4L364.7,234.3L364.9,233.3L363.5,232.4L359.5,231.7L358.0,232.3ZM260.2,223.3L260.5,222.3L262.5,221.3L263.5,220.3L263.4,218.3L266.5,217.8L269.7,218.3L274.5,220.1L278.5,220.7L279.5,221.6L280.0,223.3L280.0,224.3L279.5,225.0L278.5,225.6L273.5,226.0L272.4,226.3L270.5,227.5L267.5,227.6L267.0,228.3L264.5,229.3L262.5,228.9L261.6,228.3L264.0,226.3L263.7,225.3L261.1,224.3ZM300.5,218.3L301.5,217.9L303.3,218.3L302.5,218.6ZM319.7,218.3L321.5,217.6L321.9,218.3L320.5,218.6ZM418.9,257.3L421.1,257.3L419.5,257.7Z"/>
<path fill="#70bd2c" fill-rule="evenodd" d="M126.8,184.3L128.6,183.6L130.6,184.3L128.6,185.5ZM206.0,185.3L206.0,184.3L208.4,183.3L210.8,184.3L208.6,185.8L207.6,186.0ZM266.3,184.3L268.4,183.3L270.9,184.3L268.5,185.8ZM273.7,184.3L275.5,183.5L276.5,183.6L278.3,184.3L276.5,185.6L275.5,185.6ZM281.1,184.3L283.2,183.3L286.1,184.3L283.5,185.5ZM309.5,184.3L311.5,183.3L312.5,183.4L314.5,184.3L312.5,185.7L311.5,185.7ZM413.5,185.3L414.4,184.3L415.5,183.7L417.2,184.3L418.1,185.3L415.5,186.2ZM432.8,184.3L434.5,183.6L437.2,184.3L435.5,185.5L434.5,185.6ZM66.2,186.3L67.6,185.0L69.0,185.3L69.8,186.3L67.6,186.8ZM165.1,189.3L168.6,187.9L169.6,188.3L170.4,189.3L167.6,190.6ZM74.2,190.3L76.6,189.1L79.0,190.3L76.6,191.8ZM261.5,190.3L263.5,189.3L264.5,189.4L266.5,190.3L264.5,191.7L263.5,191.7ZM225.7,192.3L226.6,191.3L227.6,190.8L229.4,191.3L230.3,192.3L228.6,193.1L227.6,193.1ZM54.5,265.3L54.5,214.1L56.7,213.3L57.9,212.3L58.5,211.3L58.7,210.3L58.2,209.3L59.5,208.8L60.5,208.8L65.6,211.1L68.6,210.9L72.6,210.0L76.9,210.3L78.0,211.3L76.6,212.3L77.6,212.6L79.7,212.3L80.4,211.3L81.6,210.8L84.6,210.5L86.6,210.8L88.6,212.0L92.5,212.3L94.6,210.6L97.6,209.5L100.6,209.7L103.0,210.3L101.5,211.3L104.0,214.3L107.6,215.8L109.6,216.0L113.6,215.3L117.6,215.7L118.5,215.3L117.3,214.3L117.5,213.3L118.9,212.3L119.3,211.3L122.6,210.8L124.6,209.9L125.6,209.9L130.6,211.9L131.6,211.6L133.0,210.3L135.6,210.0L138.6,210.9L141.6,213.0L144.6,212.7L147.6,211.7L149.6,211.9L150.4,212.3L148.6,214.4L150.5,214.3L150.7,213.3L151.6,212.7L155.6,213.0L156.1,213.3L155.6,213.6L151.6,214.5L150.6,215.7L149.2,216.3L151.6,216.7L157.6,216.6L158.3,218.3L159.6,219.0L161.6,219.2L163.8,218.3L160.6,216.6L158.1,216.3L158.6,215.3L157.1,214.3L159.4,213.3L158.7,212.3L159.2,211.3L160.6,210.7L162.6,211.0L163.4,212.3L163.2,214.3L164.6,214.7L166.6,214.7L167.9,214.3L168.6,213.7L173.0,213.3L170.6,213.1L169.6,212.6L169.5,212.3L170.6,211.7L172.6,211.6L175.1,212.3L175.6,213.3L177.3,214.3L175.1,216.3L176.6,216.7L178.4,216.3L178.4,215.3L180.1,214.3L184.5,212.3L186.6,212.1L187.4,212.3L187.3,213.3L185.4,214.3L186.4,215.3L190.6,216.0L196.4,218.3L197.6,219.3L199.6,219.0L201.6,219.5L202.5,218.3L202.1,217.3L198.7,215.3L199.0,214.3L202.6,212.7L203.6,212.6L204.6,213.3L205.0,214.3L205.0,216.3L205.6,216.6L213.6,216.1L214.2,216.3L214.6,218.0L219.6,218.7L221.2,219.3L219.5,220.3L217.6,220.6L216.3,221.3L214.6,221.4L213.6,221.9L213.5,222.3L217.6,225.1L220.1,226.3L223.9,227.3L225.0,228.3L223.0,229.3L223.6,229.7L224.4,231.3L223.0,232.3L225.6,232.9L228.0,234.3L229.0,235.3L224.8,237.3L225.1,238.3L225.8,239.3L224.6,239.8L224.2,240.3L224.7,241.3L226.8,242.3L226.7,243.3L225.6,244.3L222.1,246.3L223.6,246.5L225.3,248.3L225.5,249.3L224.7,251.3L220.8,254.3L220.7,255.3L222.4,256.3L220.0,257.3L219.8,258.3L220.2,260.3L218.2,262.3L215.0,263.3L212.5,265.3ZM125.0,215.3L125.5,215.5L126.5,215.3L126.6,215.3L126.5,215.3L125.5,215.1L125.0,215.3ZM129.6,215.3L131.6,215.6L132.5,215.3L130.6,215.0ZM114.4,218.3L115.6,219.4L120.8,218.3L120.5,217.3L118.6,216.6L116.6,216.8ZM146.2,218.3L146.6,218.4L147.6,218.4L147.9,218.3L147.6,218.2L146.6,218.2L146.2,218.3ZM202.1,220.3L202.6,221.0L203.6,221.3L203.6,220.3L202.6,219.9ZM173.1,224.3L174.6,224.3L175.0,223.3L174.6,223.0L173.6,223.0L173.1,223.3ZM193.1,224.3L194.6,224.8L198.7,224.3L198.2,223.3L195.6,223.0L193.4,223.3ZM152.9,224.3L154.6,225.1L155.6,225.3L156.7,224.3L155.6,223.4L154.6,223.5ZM209.5,258.3L210.0,259.3L211.6,260.2L212.6,260.2L215.7,259.3L216.7,258.3L215.6,257.7L213.6,257.6ZM191.0,210.3L191.5,209.3L193.6,208.8L196.6,209.9L197.4,211.3L196.6,212.1L193.6,212.0L191.6,211.3ZM205.8,210.3L207.6,210.0L209.6,210.3L210.7,211.3L208.6,211.5L206.8,211.3ZM397.3,212.3L398.2,211.3L399.5,210.7L401.2,211.3L402.1,212.3L399.5,213.4ZM222.3,216.3L223.6,216.0L225.0,216.3L223.6,217.4L222.6,217.3ZM272.1,223.3L273.5,222.4L274.5,222.2L277.7,223.3ZM288.2,239.3L289.5,235.4L290.5,234.3L293.1,233.3L295.4,231.3L295.9,230.3L299.0,229.3L301.5,228.8L304.5,228.8L308.8,229.3L310.0,230.3L301.4,232.3L301.6,233.3L300.5,234.3L299.5,234.6L294.5,234.5L292.5,236.3L293.2,237.3L295.5,237.6L299.5,236.9L305.5,235.1L307.5,235.6L308.5,235.4L309.5,234.6L312.5,234.2L318.5,235.2L320.0,234.3L319.8,233.3L318.3,232.3L318.5,231.1L316.4,230.3L317.5,229.3L319.5,229.9L321.5,229.9L322.5,230.2L323.6,231.3L323.1,232.3L323.5,233.3L325.5,234.5L326.5,234.7L329.5,234.0L330.1,233.3L331.5,232.5L337.5,232.7L342.5,234.3L343.5,235.4L345.5,236.3L345.5,236.8L346.5,237.1L348.5,237.1L348.6,239.3L355.5,240.2L355.3,242.3L353.1,244.3L352.9,245.3L349.2,246.3L350.5,248.3L355.5,249.7L358.2,248.3L357.5,247.9L357.4,247.3L357.5,246.8L358.5,246.3L366.5,246.1L367.2,247.3L366.3,250.3L366.6,252.3L365.5,253.3L363.3,254.3L363.7,255.3L364.7,256.3L362.5,257.1L360.5,258.4L356.9,259.3L356.5,259.8L354.5,260.4L352.7,262.3L352.0,264.3L352.1,265.3L288.3,265.3L287.8,261.3L288.1,256.3L289.2,253.3L288.4,252.3L288.7,249.3L288.0,247.3L288.2,246.3L289.0,245.3L289.3,244.3L288.9,243.3L288.7,241.3L288.2,240.3ZM338.3,237.3L339.3,238.3L340.5,238.5L342.3,238.3L343.5,237.6L345.3,237.3L341.5,236.8ZM294.9,241.3L295.4,242.3L297.5,242.9L299.5,242.8L300.3,242.3L299.5,241.3L295.5,240.8ZM309.2,241.3L309.6,241.4L309.8,241.3L309.6,241.1L309.2,241.3ZM351.7,250.3L350.5,250.1L349.8,250.3L350.1,251.3L345.5,251.3L344.8,252.3L349.5,252.8L350.9,252.3L350.6,251.3ZM357.6,250.3L358.0,251.3L358.5,251.3L358.9,251.3L359.4,250.3L358.5,249.5ZM334.6,263.3L335.5,264.7L336.5,265.0L339.5,264.7L340.3,264.3L340.8,263.3L339.5,262.6L336.5,262.1ZM327.0,229.3L328.5,228.9L329.9,229.3L329.4,230.3L328.5,230.5L327.8,230.3ZM350.7,236.3L352.5,236.0L353.3,236.3Z"/>
<path fill="#c0df2a" fill-rule="evenodd" d="M127.2,184.3L128.6,184.0L130.1,184.3L128.6,185.4ZM206.2,185.3L206.2,184.3L208.6,183.4L210.6,184.3L208.6,185.7L207.6,185.8ZM266.5,184.3L268.5,183.4L270.7,184.3L268.5,185.7ZM273.9,184.3L275.5,183.7L278.1,184.3L276.5,185.4L275.5,185.5ZM281.4,184.3L283.5,183.3L285.8,184.3L283.5,185.3ZM309.7,184.3L311.5,183.5L314.3,184.3L312.5,185.5L311.5,185.6ZM413.7,185.3L414.6,184.3L415.5,183.8L417.0,184.3L417.9,185.3L415.5,186.1ZM433.0,184.3L434.5,183.8L437.0,184.3L435.5,185.4L434.5,185.4ZM66.5,186.3L67.6,185.2L68.7,185.3L69.5,186.3L67.6,186.6ZM165.3,189.3L168.6,188.1L170.1,189.3L167.6,190.5ZM74.4,190.3L76.6,189.3L78.8,190.3L76.6,191.7ZM261.7,190.3L263.5,189.5L266.3,190.3L264.5,191.5L263.5,191.6ZM225.9,192.3L227.6,190.9L229.2,191.3L230.1,192.3L227.6,193.0ZM397.5,212.3L398.4,211.3L399.5,210.8L401.0,211.3L401.9,212.3L399.5,213.2ZM54.5,265.3L54.5,221.6L56.4,219.3L54.5,219.2L54.5,215.9L56.5,216.0L58.5,217.8L61.1,217.3L61.5,216.7L62.5,217.3L62.0,219.3L62.7,220.3L63.5,220.7L64.6,220.7L66.6,219.3L66.7,218.3L67.6,218.0L71.6,217.8L74.6,218.6L75.6,218.6L75.8,218.3L74.5,216.3L75.6,215.9L77.6,215.9L82.1,217.3L82.6,217.8L88.6,217.5L89.6,217.7L90.8,220.3L91.6,220.9L94.6,220.7L96.5,222.3L98.6,223.0L100.6,222.8L107.6,221.2L108.0,221.3L108.8,222.3L116.6,224.5L120.6,225.3L125.6,224.8L128.6,225.0L129.3,225.3L128.1,226.3L133.6,226.4L135.6,227.5L137.6,227.8L139.6,227.5L141.6,225.7L143.6,225.9L144.6,225.1L145.2,225.3L145.5,226.3L147.6,226.4L148.6,226.9L149.6,228.3L152.6,229.0L153.6,230.3L154.6,230.6L157.1,230.3L156.9,229.3L157.4,228.3L158.6,228.6L161.5,230.3L158.1,232.3L159.6,233.0L164.6,232.5L167.6,231.7L170.6,231.5L171.0,231.3L169.8,230.3L170.1,229.3L172.6,228.5L175.0,228.3L173.6,227.7L173.4,227.3L174.6,227.0L175.3,226.3L180.6,224.9L184.6,224.7L185.4,225.3L185.6,226.5L188.5,227.3L188.4,228.3L186.6,229.5L183.6,229.5L180.9,230.3L179.9,231.3L180.6,232.3L181.6,232.6L185.6,232.6L189.6,233.3L191.6,233.2L194.6,232.4L203.6,233.2L208.6,232.8L210.6,233.3L212.6,233.1L212.9,233.3L212.8,234.3L213.6,234.9L215.6,234.8L216.7,234.3L217.8,234.3L218.6,234.8L222.6,234.2L223.3,234.3L223.6,235.2L221.6,235.7L217.6,235.6L213.4,236.3L215.4,237.3L219.6,238.4L220.9,240.3L219.8,241.3L220.6,242.3L215.3,243.3L214.6,244.5L211.5,246.3L213.6,246.7L217.3,248.3L218.1,249.3L218.2,250.3L217.8,252.3L215.6,253.3L211.6,253.8L210.6,255.5L207.6,255.8L206.6,256.3L205.6,257.3L206.1,258.3L207.3,259.3L207.8,261.3L209.4,264.3L209.2,265.3ZM68.5,219.3L69.0,220.3L70.5,221.3L74.6,222.6L79.6,222.1L84.6,222.9L89.6,222.3L89.6,221.2L86.6,221.3L82.6,220.6L82.0,220.3L82.1,219.3L81.6,218.5L80.6,218.2L78.2,218.3L77.6,218.9L76.6,218.8L75.6,219.6L73.6,220.0L72.6,219.8L72.4,219.3L69.6,218.7ZM180.6,228.3L182.6,228.6L183.2,228.3L182.6,227.8L181.6,227.8ZM135.3,231.3L138.6,232.0L142.7,231.3L141.4,230.3L139.6,229.8ZM151.5,233.3L152.6,233.5L153.8,234.3L155.0,234.3L155.0,233.3ZM195.9,250.3L200.6,252.3L206.5,252.3L207.5,251.3L207.2,250.3L211.7,249.3L211.3,248.3L210.6,247.5L207.6,247.7L200.6,246.2L199.3,246.3L196.7,247.3L197.1,249.3ZM88.4,216.3L89.6,216.0L90.8,216.3L89.6,216.7ZM183.6,217.1L183.7,217.3L183.6,217.4L183.2,217.3L183.6,217.1ZM136.4,219.3L137.9,219.3L137.6,219.6ZM116.1,221.3L117.6,221.3L116.6,221.7ZM143.8,223.3L144.9,222.3L146.6,221.9L149.4,222.3L147.9,223.3L145.6,224.2L144.6,223.9ZM162.9,224.3L163.6,223.5L164.6,223.5L166.9,224.3L166.6,225.3L165.6,225.4L163.6,224.9ZM186.6,224.3L186.7,224.3L186.6,224.3L186.5,224.3L186.6,224.3ZM205.8,226.3L206.6,225.3L211.6,225.0L212.7,225.3L213.2,226.3L212.6,226.9L209.6,227.5L207.6,227.3ZM191.1,228.3L191.6,228.0L192.6,228.3L191.6,228.5ZM203.4,229.3L199.6,231.1L196.6,231.3L195.6,231.8L194.6,231.7L194.4,231.3L195.6,229.4L201.6,228.2L202.6,228.5ZM211.6,228.9L212.5,229.3L211.6,229.6L211.0,229.3L211.6,228.9ZM212.9,230.3L213.6,229.8L214.6,229.8L215.6,230.5L216.1,231.3L215.6,232.6L213.6,232.9L213.0,232.3ZM327.8,237.3L328.5,237.0L331.5,237.9L333.5,237.9L334.9,238.3L333.5,238.9L330.5,239.5L327.9,239.3L328.1,238.3ZM302.0,239.3L303.5,239.0L304.7,239.3L303.5,239.7ZM318.6,242.2L319.6,242.2L320.6,242.2L321.6,242.3L321.6,242.3L321.6,242.4L320.6,242.4L319.6,242.5L318.6,242.4L318.3,242.3L318.6,242.2ZM339.1,242.3L339.9,242.3L340.9,243.3L338.9,243.3ZM349.6,259.3L349.5,261.4L348.5,262.0L345.5,262.5L343.5,260.0L341.5,260.1L340.0,259.3L343.1,258.3L341.5,257.9L339.5,258.0L339.2,258.3L339.1,259.3L337.6,260.3L333.5,260.0L331.5,259.3L330.4,259.3L329.9,261.3L329.1,262.3L326.5,263.7L321.5,264.0L320.8,264.3L320.9,265.3L290.4,265.3L290.8,264.3L289.5,263.4L288.5,261.3L288.9,256.3L290.8,253.3L289.6,252.3L289.4,251.3L290.6,249.3L290.5,248.3L289.2,247.3L289.5,246.7L292.5,246.2L294.5,246.4L296.5,247.2L300.7,246.3L301.5,245.3L304.5,245.8L312.5,244.5L317.5,244.6L323.5,243.1L328.6,244.3L330.5,245.9L337.5,246.9L340.5,247.9L342.5,249.3L342.3,250.3L337.9,251.3L336.8,253.3L337.5,254.2L343.5,255.2L343.8,254.3L344.5,254.1L347.9,254.3L346.5,255.2L344.5,255.3L344.0,256.3L344.2,257.3L345.6,259.3L346.5,259.9ZM324.9,247.3L326.5,247.8L328.0,247.3L328.1,246.3L326.5,245.9L325.4,246.3ZM294.5,248.3L295.5,249.3L296.5,249.2L297.7,248.3L297.5,247.7L296.5,247.4ZM327.3,249.3L331.5,250.3L332.6,249.3L330.5,247.4L329.5,247.6ZM348.0,255.3L348.5,254.9L351.1,255.3ZM344.2,264.3L345.5,263.5L349.5,264.6L350.4,265.3L344.1,265.3Z"/>
<path fill="#e9f022" fill-rule="evenodd" d="M206.4,185.3L206.4,184.3L208.6,183.6L210.2,184.3L208.6,185.6L207.6,185.7ZM266.9,184.3L268.5,183.7L270.3,184.3L268.5,185.5ZM274.2,184.3L275.5,183.9L277.8,184.3L276.5,185.3L275.5,185.3ZM282.1,184.3L283.5,184.0L285.2,184.3L283.5,184.6ZM309.9,184.3L311.5,183.7L314.1,184.3L312.5,185.4L311.5,185.5ZM413.9,185.3L415.5,183.9L416.8,184.3L417.7,185.3L415.5,185.9ZM433.3,184.3L434.5,184.0L436.7,184.3L435.5,185.1L434.5,185.3ZM67.1,186.3L67.6,185.5L68.6,185.8L68.9,186.3ZM169.7,189.3L168.6,189.6L167.6,190.4L165.6,189.3L168.6,188.2ZM74.6,190.3L76.6,189.5L78.6,190.3L76.6,191.6ZM261.9,190.3L263.5,189.7L266.1,190.3L264.5,191.4L263.5,191.5ZM226.1,192.3L227.6,191.0L229.0,191.3L229.9,192.3L227.6,192.8ZM397.7,212.3L398.6,211.3L399.5,210.9L400.8,211.3L401.7,212.3L399.5,213.1ZM54.5,265.3L54.5,224.7L56.5,224.8L61.5,224.0L62.8,223.3L66.6,222.2L67.6,222.4L68.6,223.3L65.2,225.3L67.6,226.2L76.6,227.1L80.9,226.3L81.0,225.3L82.6,224.8L84.3,225.3L84.3,226.3L88.6,227.8L90.2,227.3L91.6,226.4L93.6,225.9L94.4,225.3L94.6,224.3L99.6,225.8L100.2,226.3L99.5,227.3L97.0,228.3L98.6,229.0L103.6,229.4L106.6,228.5L108.6,228.4L109.6,228.7L110.6,229.8L111.6,229.6L113.6,228.5L116.6,228.6L122.6,227.9L126.6,228.7L127.6,229.3L128.0,230.3L131.6,232.8L135.6,232.7L138.1,233.3L138.8,234.3L140.6,234.9L145.6,235.2L148.6,234.8L153.6,236.0L158.6,236.6L160.6,236.5L161.0,236.3L160.9,235.3L163.6,234.9L164.7,234.3L168.6,233.1L172.6,233.1L175.6,234.5L178.6,233.7L180.6,233.8L183.6,235.4L186.6,234.8L190.6,234.8L194.6,233.8L197.6,233.9L199.2,234.3L195.6,236.3L196.2,237.3L198.5,237.3L201.6,236.2L202.6,236.2L204.5,237.3L204.9,238.3L204.4,239.3L205.6,240.1L207.6,238.6L209.6,239.3L214.6,238.8L215.9,239.3L216.6,240.3L215.4,241.3L211.5,242.3L210.6,243.5L208.6,244.1L206.6,245.6L205.6,245.7L203.9,245.3L205.3,244.3L205.1,243.3L204.6,242.8L199.6,242.7L197.2,244.3L197.5,245.3L194.6,246.0L193.6,247.3L194.0,248.3L193.2,249.3L192.5,251.3L193.6,252.3L196.6,253.3L203.6,253.6L204.5,254.3L204.8,255.3L203.6,256.3L203.5,257.3L203.0,258.3L203.9,259.3L204.0,260.3L205.3,261.3L203.7,263.3L205.7,264.3L205.0,265.3ZM118.6,233.3L119.6,234.2L124.3,233.3L124.4,232.3L119.6,231.4ZM131.3,235.3L133.6,236.7L135.6,236.9L138.2,236.3L138.5,235.3L137.6,234.7L134.6,234.8L132.6,234.5ZM183.4,242.3L185.1,243.3L186.6,243.3L186.4,242.3L185.6,241.5ZM190.5,243.3L191.6,243.8L192.6,243.8L193.0,243.3ZM183.5,246.3L184.6,247.6L185.6,248.2L186.3,247.3L188.3,246.3L186.7,245.3L185.6,245.2ZM184.5,250.3L187.7,249.3L186.6,248.5L185.6,248.4L184.7,249.3ZM205.8,237.3L207.6,236.9L208.7,237.3L207.6,238.1ZM311.0,246.3L313.4,246.3L312.5,247.0ZM314.5,246.2L315.6,246.2L316.2,246.3L315.6,246.5L314.6,246.5L313.6,246.3L314.5,246.2ZM290.9,251.3L292.5,250.5L296.5,251.0L300.5,250.9L301.6,251.3L302.6,252.3L304.5,252.4L303.3,251.3L303.1,250.3L305.5,248.3L307.5,247.4L312.7,249.3L312.5,250.0L311.5,250.3L316.5,250.9L319.5,252.5L320.6,253.3L320.7,254.3L323.5,255.7L325.2,257.3L323.5,257.6L322.2,259.3L323.3,261.3L321.3,262.3L319.5,262.7L317.5,264.3L311.5,265.3L294.5,265.3L295.2,264.3L293.5,262.9L290.2,261.3L290.4,260.3L289.9,257.3L290.5,255.3L292.5,253.9L295.9,253.3L296.2,252.3L294.5,251.8L291.5,251.9ZM318.3,258.3L318.6,258.3L318.7,258.3L318.6,258.3L318.3,258.3ZM316.9,249.3L317.5,248.7L319.5,248.5L321.2,249.3L321.4,250.3L320.5,250.7L317.5,250.7ZM325.8,255.3L326.3,254.3L327.5,253.6L332.5,253.7L334.2,254.3L330.6,257.3L329.5,257.5L327.5,257.1Z"/>
<path fill="#fcb418" fill-rule="evenodd" d="M206.8,185.3L206.8,184.3L208.6,183.9L209.9,184.3L208.6,185.5ZM267.2,184.3L268.5,184.0L269.9,184.3L268.5,185.4ZM274.4,184.3L277.6,184.3L275.5,184.9ZM310.2,184.3L311.5,183.9L313.8,184.3L312.5,185.3L311.5,185.4ZM414.2,185.3L415.5,184.0L416.6,184.3L417.4,185.3L415.5,185.7ZM433.6,184.3L436.1,184.3L434.5,184.6ZM166.2,189.3L168.6,188.8L169.1,189.3L167.6,189.9ZM74.9,190.3L76.6,189.8L78.3,190.3L76.6,191.5ZM262.2,190.3L263.5,189.9L265.8,190.3L264.5,191.3L263.5,191.4ZM226.4,192.3L227.6,191.1L228.8,191.3L229.6,192.3L227.6,192.7ZM397.9,212.3L398.8,211.3L399.5,211.0L400.7,211.3L401.5,212.3L399.5,212.9ZM54.5,227.2L59.5,226.0L61.1,226.3L61.4,227.3L60.9,228.3L61.5,228.5L64.6,228.4L66.6,227.5L72.6,227.8L74.1,228.3L75.0,230.3L74.9,231.3L75.9,232.3L78.6,232.7L80.6,232.3L83.6,232.9L89.6,232.5L94.6,234.8L97.6,233.3L99.6,233.0L101.6,233.5L104.6,234.8L108.6,234.3L112.6,234.4L114.6,233.8L117.8,235.3L118.0,236.3L117.2,237.3L117.2,238.3L120.6,237.7L125.6,239.0L133.6,238.7L137.6,239.8L139.6,239.7L142.6,240.3L146.6,239.9L151.0,238.3L153.6,237.8L156.6,238.1L158.6,238.9L161.6,238.1L164.6,238.1L165.6,237.8L166.2,236.3L167.6,235.9L169.6,236.1L177.6,237.9L178.4,238.3L176.6,240.1L170.6,241.6L169.3,243.3L169.6,243.7L172.6,244.1L172.6,244.4L169.6,244.5L166.6,245.2L164.6,244.7L160.6,244.7L158.7,245.3L163.6,248.4L165.6,248.6L168.6,247.7L169.1,248.3L170.0,250.3L171.6,250.8L172.8,250.3L172.6,249.3L173.6,249.7L174.0,250.3L175.6,250.5L176.0,250.3L175.7,249.3L176.6,248.0L179.6,246.8L181.6,246.9L182.2,247.3L182.4,248.3L180.2,250.3L176.9,251.3L178.1,253.3L176.0,254.3L179.5,255.3L179.3,257.3L181.6,257.6L185.6,257.4L189.6,258.7L191.7,258.3L193.6,257.3L192.6,256.6L190.6,255.9L182.6,256.2L179.9,255.3L186.6,252.7L188.6,252.7L192.6,253.8L195.6,255.1L198.6,254.9L200.9,255.3L201.4,256.3L201.2,257.3L200.3,258.3L200.0,259.3L202.5,261.3L201.8,262.3L199.6,263.3L199.4,264.3L198.6,264.5L195.5,263.3L197.4,262.3L197.7,261.3L196.6,260.7L194.7,261.3L194.6,262.4L192.6,261.9L189.8,262.3L189.4,263.3L188.6,264.2L185.6,264.7L184.5,265.3L54.5,265.3ZM159.0,240.3L159.6,240.6L160.6,240.3L159.6,239.9ZM156.8,250.3L157.6,251.0L158.6,250.3ZM172.1,256.3L172.6,256.6L173.6,256.4L175.4,255.3L174.6,254.5L172.3,255.3ZM171.3,257.3L171.6,257.4L171.9,257.3L171.6,256.9L171.3,257.3ZM83.0,228.3L83.3,229.3L80.6,230.3L79.6,229.8L79.4,229.3L80.9,228.3ZM89.8,231.3L90.6,230.2L91.6,229.9L93.1,230.3L93.6,231.3L91.6,231.8ZM104.5,231.3L106.8,231.3L105.6,231.6ZM113.5,232.2L114.0,232.3L113.6,232.5L113.3,232.3L113.5,232.2ZM179.0,235.3L179.7,235.3L180.7,236.3L179.2,236.3ZM169.6,247.3L170.0,247.3L169.6,247.5L169.4,247.3L169.6,247.3ZM171.6,247.3L173.6,247.1L174.6,247.3ZM318.4,254.3L317.5,255.1L314.9,256.3L315.1,257.3L314.6,259.3L315.5,260.5L317.9,261.3L314.5,263.0L309.5,263.5L303.4,265.3L297.3,265.3L297.9,264.3L294.7,262.3L294.4,261.3L298.6,257.3L297.0,256.3L294.5,255.6L294.3,255.3L295.5,254.5L299.5,254.2L301.5,254.9L306.5,253.9L310.5,254.6L311.5,254.4L313.4,253.3L314.5,253.2L317.5,253.6ZM312.0,256.3L313.8,256.3L312.5,256.1ZM293.5,258.3L294.5,258.0L296.1,258.3Z"/>
<path fill="#f8627c" fill-rule="evenodd" d="M207.2,185.3L207.2,184.3L209.6,184.3L208.6,185.4ZM310.4,184.3L311.5,184.0L313.6,184.3L311.5,185.1ZM414.4,185.3L415.5,184.1L416.2,184.3L417.0,185.3L415.5,185.6ZM75.2,190.3L76.6,190.0L77.9,190.3L76.6,191.4ZM262.4,190.3L263.5,190.0L265.6,190.3L263.5,191.1ZM226.6,192.3L227.6,191.2L228.6,191.3L229.3,192.3L227.6,192.5ZM398.1,212.3L399.5,211.1L400.4,211.3L401.2,212.3L399.5,212.7ZM63.2,230.3L65.1,230.3L65.6,231.1L66.7,231.3L63.5,231.3ZM72.1,231.3L70.6,232.5L69.3,232.3L69.7,231.3ZM54.5,232.3L56.5,233.2L57.4,234.3L58.5,234.7L61.5,234.8L67.6,234.3L69.6,234.6L71.6,233.7L74.6,233.9L77.4,235.3L78.6,237.3L79.6,237.3L81.8,236.3L78.3,235.3L80.4,234.3L83.6,234.6L85.9,234.3L88.6,235.3L87.4,236.3L87.8,237.3L89.6,239.5L91.6,239.3L94.6,238.1L97.6,238.0L98.6,237.4L103.6,239.3L105.0,239.3L105.5,238.3L104.4,237.3L107.6,236.6L108.6,236.7L109.5,237.3L110.6,238.7L113.6,239.8L117.6,240.4L121.6,240.0L125.6,240.2L126.2,241.3L125.6,242.3L124.6,242.9L124.4,244.3L123.6,244.8L120.6,244.6L119.6,244.2L118.6,243.1L115.6,242.7L114.6,243.0L113.4,244.3L114.0,245.3L115.6,245.6L117.6,245.4L121.6,246.7L122.6,246.8L124.4,246.3L124.8,245.3L128.6,244.6L131.6,243.3L133.3,244.3L131.7,245.3L131.6,246.3L130.8,247.3L132.2,248.3L132.1,249.3L134.6,251.1L136.6,251.6L139.6,251.4L142.6,250.3L145.1,250.3L146.4,248.3L144.9,247.3L148.6,246.8L151.0,245.3L152.6,245.0L153.3,245.3L153.9,246.3L157.6,248.3L155.9,249.3L152.6,249.8L150.1,251.3L147.6,251.8L146.9,252.3L147.6,252.8L149.6,253.6L150.4,253.3L150.8,252.3L151.6,251.8L156.7,252.3L157.8,253.3L156.4,255.3L158.3,257.3L159.6,257.5L163.1,256.3L162.5,255.3L162.6,254.3L163.6,253.6L165.6,253.4L169.6,254.3L167.4,255.3L166.6,256.3L164.6,257.5L161.2,258.3L161.0,259.3L163.7,261.3L164.6,261.6L168.6,260.8L171.6,261.6L172.6,261.6L176.6,260.4L180.6,260.4L183.6,259.1L184.6,259.3L185.9,260.3L185.2,261.3L181.6,262.7L178.3,263.3L179.6,263.7L181.2,265.3L54.5,265.3ZM99.9,244.3L102.6,245.4L107.6,246.1L109.6,245.9L110.3,245.3L109.6,244.5L108.2,244.3L108.4,243.3L106.6,242.9L101.6,242.7L100.4,243.3ZM162.2,262.3L162.6,262.4L163.0,262.3L162.6,262.1L162.2,262.3ZM164.6,242.2L164.8,242.3L164.6,242.5L164.1,242.3L164.6,242.2ZM134.1,244.3L135.6,243.0L136.6,242.5L142.6,242.3L143.6,242.5L144.7,243.3L144.0,244.3L141.6,245.3L138.6,245.0L135.6,245.2ZM166.6,251.3L166.9,251.3L166.6,251.4L165.6,251.3L166.6,251.3ZM188.6,254.2L188.7,254.3L188.6,254.3L188.3,254.3L188.6,254.2ZM312.3,258.3L311.6,259.3L311.7,260.3L312.4,261.3L309.5,261.7L304.5,263.3L300.5,263.6L298.6,262.3L298.5,261.3L299.0,260.3L302.5,258.9L304.5,258.7L308.5,257.6L310.5,257.6Z"/>
<path fill="#fc3010" fill-rule="evenodd" d="M310.8,184.3L313.0,184.3L311.5,184.6ZM414.8,185.3L415.5,184.2L416.7,185.3ZM262.8,190.3L265.0,190.3L263.5,190.6ZM227.2,192.3L227.6,191.7L228.6,191.9L228.8,192.3ZM398.3,212.3L399.5,211.2L400.9,212.3L399.5,212.6ZM54.5,235.1L55.4,235.3L56.2,236.3L61.5,237.6L63.6,236.3L64.6,236.2L66.6,236.8L70.6,237.0L71.0,236.3L73.6,236.0L74.6,236.3L75.1,237.3L74.9,238.3L76.2,239.3L84.6,239.6L85.1,240.3L85.2,241.3L84.6,242.3L85.6,243.0L87.6,243.0L88.6,243.5L94.6,244.5L96.6,244.0L97.6,244.2L98.5,245.3L98.5,246.3L97.0,248.3L97.1,249.3L98.6,249.3L102.6,247.8L103.6,246.9L104.6,246.8L108.6,248.7L114.6,247.4L117.6,247.6L120.6,248.4L123.6,248.0L127.6,248.6L128.6,249.3L128.2,250.3L128.2,251.3L128.6,251.7L134.5,252.3L135.4,253.3L134.1,254.3L130.6,255.8L126.6,256.0L125.8,256.3L127.6,257.7L132.6,258.3L130.6,259.1L125.6,258.3L121.1,259.3L121.8,260.3L125.6,261.7L126.6,261.5L128.6,260.4L129.6,260.3L132.6,261.1L133.6,261.0L137.4,259.3L138.9,258.3L137.4,256.3L137.3,255.3L138.6,254.8L150.6,256.0L153.1,257.3L149.9,258.3L150.4,259.3L158.6,260.9L159.0,262.3L158.6,263.3L159.1,264.3L161.5,265.3L154.3,265.3L153.6,264.2L150.6,263.5L148.6,264.3L147.2,264.3L146.7,265.3L87.8,265.3L83.6,264.9L81.6,265.3L54.5,265.3L54.5,244.2L56.5,245.0L59.1,244.3L57.5,244.0L56.8,243.3L57.0,242.3L54.5,241.7ZM62.5,238.3L62.6,239.3L66.6,240.6L69.1,239.3L72.6,238.3L71.6,237.5L65.6,237.7ZM75.2,242.3L75.6,242.6L79.1,242.3L78.6,241.8L75.6,242.0ZM72.9,243.3L73.5,243.3L73.8,243.3L73.5,243.3L72.9,243.3ZM67.5,244.3L68.6,244.9L70.6,244.9L71.0,244.3L70.6,243.8L69.6,243.7ZM83.5,244.3L84.6,244.6L85.1,244.3L84.6,243.7ZM68.2,247.3L67.9,246.3L66.6,246.0L63.5,247.3L64.6,248.0L65.6,248.2ZM85.4,248.3L86.3,249.3L87.7,249.3L86.6,248.3ZM91.1,249.3L92.7,249.3L91.6,249.0ZM104.1,250.3L104.6,250.5L105.7,250.3L104.6,249.9ZM108.7,251.3L109.6,252.3L110.6,252.7L112.2,252.3L112.6,251.3L110.6,249.9L109.6,250.2ZM118.1,254.3L121.6,255.9L123.6,255.3L122.6,253.5L122.0,253.3L127.7,252.3L125.6,250.7L122.6,250.4L121.6,250.7L120.9,251.3L121.5,252.3L120.6,253.3L118.6,253.9ZM69.7,254.3L71.6,254.4L75.6,253.3L74.6,252.8L71.6,252.8L69.7,253.3ZM92.9,253.3L93.6,253.9L95.6,254.4L97.1,255.3L98.6,255.6L99.1,255.3L98.3,254.3L96.5,253.3L94.6,253.0ZM102.7,256.3L103.6,257.0L108.0,257.3L108.0,256.3L109.9,255.3L108.5,254.3L107.6,254.0L104.6,253.9L103.4,254.3L103.7,255.3ZM69.9,257.3L70.6,258.2L71.6,258.1L71.7,257.3ZM142.4,259.3L143.6,259.6L147.2,259.3L146.6,258.8ZM100.3,240.3L101.6,240.0L102.6,240.3L101.6,240.7Z"/>
</g>
<line x1="54.55" y1="36.50" x2="63.85" y2="36.50" stroke="#2a2a2a" stroke-width="1.0"/>
<line x1="54.55" y1="52.50" x2="63.85" y2="52.50" stroke="#2a2a2a" stroke-width="1.0"/>
<line x1="54.55" y1="68.50" x2="63.85" y2="68.50" stroke="#2a2a2a" stroke-width="1.0"/>
<line x1="54.55" y1="84.90" x2="63.85" y2="84.90" stroke="#2a2a2a" stroke-width="1.0"/>
<line x1="54.55" y1="118.00" x2="63.85" y2="118.00" stroke="#2a2a2a" stroke-width="1.0"/>
<line x1="54.55" y1="134.30" x2="63.85" y2="134.30" stroke="#2a2a2a" stroke-width="1.0"/>
<line x1="54.55" y1="150.70" x2="63.85" y2="150.70" stroke="#2a2a2a" stroke-width="1.0"/>
<line x1="54.55" y1="167.00" x2="63.85" y2="167.00" stroke="#2a2a2a" stroke-width="1.0"/>
<line x1="54.55" y1="192.50" x2="63.85" y2="192.50" stroke="#2a2a2a" stroke-width="1.0"/>
<line x1="54.55" y1="210.80" x2="63.85" y2="210.80" stroke="#2a2a2a" stroke-width="1.0"/>
<line x1="54.55" y1="229.00" x2="63.85" y2="229.00" stroke="#2a2a2a" stroke-width="1.0"/>
<line x1="54.55" y1="247.30" x2="63.85" y2="247.30" stroke="#2a2a2a" stroke-width="1.0"/>
<line x1="54.55" y1="281.40" x2="63.85" y2="281.40" stroke="#2a2a2a" stroke-width="1.0"/>
<line x1="54.55" y1="303.00" x2="63.85" y2="303.00" stroke="#2a2a2a" stroke-width="1.0"/>
<line x1="54.55" y1="324.70" x2="63.85" y2="324.70" stroke="#2a2a2a" stroke-width="1.0"/>
<line x1="54.55" y1="357.40" x2="63.85" y2="357.40" stroke="#2a2a2a" stroke-width="1.0"/>
<line x1="54.55" y1="377.80" x2="63.85" y2="377.80" stroke="#2a2a2a" stroke-width="1.0"/>
<line x1="54.55" y1="398.20" x2="63.85" y2="398.20" stroke="#2a2a2a" stroke-width="1.0"/>
<line x1="134.44" y1="101.30" x2="134.44" y2="96.10" stroke="#2a2a2a" stroke-width="1.0"/>
<line x1="214.33" y1="101.30" x2="214.33" y2="96.10" stroke="#2a2a2a" stroke-width="1.0"/>
<line x1="294.22" y1="101.30" x2="294.22" y2="96.10" stroke="#2a2a2a" stroke-width="1.0"/>
<line x1="374.11" y1="101.30" x2="374.11" y2="96.10" stroke="#2a2a2a" stroke-width="1.0"/>
<line x1="134.44" y1="183.30" x2="134.44" y2="178.10" stroke="#2a2a2a" stroke-width="1.0"/>
<line x1="214.33" y1="183.30" x2="214.33" y2="178.10" stroke="#2a2a2a" stroke-width="1.0"/>
<line x1="294.22" y1="183.30" x2="294.22" y2="178.10" stroke="#2a2a2a" stroke-width="1.0"/>
<line x1="374.11" y1="183.30" x2="374.11" y2="178.10" stroke="#2a2a2a" stroke-width="1.0"/>
<line x1="134.44" y1="265.30" x2="134.44" y2="260.10" stroke="#2a2a2a" stroke-width="1.0"/>
<line x1="214.33" y1="265.30" x2="214.33" y2="260.10" stroke="#2a2a2a" stroke-width="1.0"/>
<line x1="294.22" y1="265.30" x2="294.22" y2="260.10" stroke="#2a2a2a" stroke-width="1.0"/>
<line x1="374.11" y1="265.30" x2="374.11" y2="260.10" stroke="#2a2a2a" stroke-width="1.0"/>
<line x1="134.44" y1="346.40" x2="134.44" y2="341.20" stroke="#2a2a2a" stroke-width="1.0"/>
<line x1="214.33" y1="346.40" x2="214.33" y2="341.20" stroke="#2a2a2a" stroke-width="1.0"/>
<line x1="294.22" y1="346.40" x2="294.22" y2="341.20" stroke="#2a2a2a" stroke-width="1.0"/>
<line x1="374.11" y1="346.40" x2="374.11" y2="341.20" stroke="#2a2a2a" stroke-width="1.0"/>
<line x1="134.44" y1="419.40" x2="134.44" y2="409.90" stroke="#2a2a2a" stroke-width="1.0"/>
<line x1="214.33" y1="419.40" x2="214.33" y2="409.90" stroke="#2a2a2a" stroke-width="1.0"/>
<line x1="294.22" y1="419.40" x2="294.22" y2="409.90" stroke="#2a2a2a" stroke-width="1.0"/>
<line x1="374.11" y1="419.40" x2="374.11" y2="409.90" stroke="#2a2a2a" stroke-width="1.0"/>
<line x1="54.55" y1="101.30" x2="454.00" y2="101.30" stroke="#3a3a3a" stroke-width="1.0"/>
<line x1="54.55" y1="183.30" x2="454.00" y2="183.30" stroke="#808080" stroke-width="1.0"/>
<line x1="54.55" y1="265.30" x2="454.00" y2="265.30" stroke="#222222" stroke-width="1.0"/>
<line x1="54.55" y1="346.40" x2="454.00" y2="346.40" stroke="#3a3a3a" stroke-width="1.0"/>
<rect x="54.55" y="20.50" width="399.45" height="398.90" fill="none" stroke="#5a5a5a" stroke-width="1.0"/>
<g clip-path="url(#cpb)">
<polyline fill="none" stroke="#fc0006" stroke-width="1.3" stroke-linejoin="round"  points="54.5,156.9 54.9,158.4 55.2,157.7 55.6,156.8 55.9,158.2 56.3,157.8 56.6,158.2 56.3,159.0 56.6,133.6 57.0,161.0 57.4,159.0 56.9,159.9 57.3,156.1 57.6,161.5 58.0,160.7 58.3,159.6 58.6,157.4 59.0,159.0 59.3,158.3 59.7,158.4 60.0,157.2 60.3,158.3 60.7,158.8 61.0,158.4 61.0,159.0 61.3,135.4 61.6,161.0 62.1,159.0 61.4,159.1 61.7,158.0 62.0,158.4 62.4,158.1 62.7,158.2 63.1,159.3 63.4,160.0 63.7,158.7 63.6,159.0 63.9,135.5 64.3,161.0 64.7,159.0 64.1,160.2 64.4,158.8 64.8,162.2 65.1,156.9 65.4,156.7 65.8,159.2 66.1,156.0 66.5,156.6 66.8,159.8 67.1,161.2 67.5,159.5 67.8,158.5 67.8,159.0 68.1,134.6 68.5,161.0 68.9,159.0 68.2,157.8 68.5,160.4 68.8,159.6 69.2,156.8 69.5,157.8 69.9,160.2 70.2,161.4 70.5,158.1 70.9,158.3 71.2,157.9 71.6,157.0 71.9,158.4 72.2,157.0 72.6,158.3 72.9,156.9 73.3,157.8 73.6,160.7 73.9,156.4 73.8,159.0 74.1,134.5 74.4,161.0 74.9,159.0 74.3,159.6 74.6,159.5 75.0,159.2 75.3,159.0 75.6,158.8 76.0,158.8 76.3,157.1 76.7,160.3 77.0,158.1 77.3,159.3 77.7,157.8 78.0,155.6 78.4,158.3 78.7,160.2 78.7,159.0 79.0,133.6 79.4,161.0 79.8,159.0 79.0,159.3 79.4,158.0 79.7,159.0 80.1,161.9 80.4,158.4 80.7,156.8 81.1,159.2 81.4,158.8 81.8,157.0 82.1,159.9 82.4,159.6 82.2,159.0 82.5,135.3 82.9,161.0 83.3,159.0 82.8,158.7 83.1,158.0 83.5,159.3 83.8,160.6 84.1,158.6 84.5,160.0 84.8,159.2 85.2,157.0 85.5,158.9 85.8,160.9 86.2,158.1 86.5,159.2 86.9,159.3 86.7,159.0 87.0,134.3 87.3,161.0 87.8,159.0 87.2,156.0 87.5,157.7 87.9,157.7 88.2,158.3 88.6,158.4 88.9,156.9 89.2,156.1 89.6,159.7 89.9,157.8 90.3,157.6 90.6,159.5 90.3,159.0 90.6,135.1 90.9,161.0 91.4,159.0 90.9,159.5 91.3,157.5 91.6,158.1 92.0,157.9 92.3,159.0 92.6,157.4 93.0,159.7 93.3,159.6 93.3,159.0 93.6,134.0 93.9,161.0 94.4,159.0 93.7,158.2 94.0,157.3 94.3,159.5 94.7,159.9 95.0,157.8 95.4,159.1 95.7,156.2 96.0,158.0 96.4,158.5 96.7,157.8 97.1,159.0 97.4,158.6 97.4,159.0 97.7,133.6 98.0,161.0 98.5,159.0 97.7,158.3 98.1,158.9 98.4,158.7 98.8,156.6 99.1,157.4 99.4,155.8 99.8,160.3 100.1,157.4 100.5,159.0 100.8,157.1 101.1,159.5 101.5,159.2 101.8,156.4 101.7,159.0 102.0,141.9 102.4,161.0 102.8,159.0 102.2,156.9 102.5,160.6 102.8,158.0 103.2,158.6 103.5,157.7 103.9,158.3 104.2,159.3 104.5,157.2 104.9,159.6 105.2,159.2 105.6,157.1 105.6,159.0 105.9,134.6 106.2,161.0 106.7,159.0 105.9,157.4 106.2,157.4 106.6,158.9 106.9,160.1 107.3,159.8 107.6,158.0 107.9,160.0 108.3,159.4 108.6,159.7 109.0,158.4 109.3,161.0 109.2,159.0 109.5,136.3 109.8,161.0 110.3,159.0 109.6,158.1 110.0,158.5 110.3,157.8 110.7,158.4 111.0,156.7 111.3,160.0 111.7,158.0 112.0,157.7 112.4,158.9 112.7,156.2 113.0,157.2 113.4,157.8 113.7,159.5 114.1,158.9 114.0,159.0 114.3,134.0 114.6,161.0 115.1,159.0 114.4,159.3 114.7,158.6 115.1,157.7 115.4,155.4 115.8,158.3 116.1,157.4 116.4,157.3 116.8,159.0 117.1,157.7 117.5,159.3 117.8,158.0 118.1,159.8 118.5,158.9 118.8,156.4 119.2,159.0 119.5,158.4 119.3,159.0 119.6,134.3 120.0,161.0 120.4,159.0 119.8,157.2 120.2,157.1 120.5,158.9 120.9,158.5 121.2,159.1 121.5,159.5 121.9,162.3 122.2,157.0 122.6,159.2 122.9,159.3 123.2,156.9 123.6,157.5 123.9,159.0 123.7,158.7 124.0,136.8 124.3,160.7 124.8,158.7 124.3,159.4 124.6,157.6 124.9,158.3 125.3,158.8 125.6,157.4 126.0,161.2 126.3,157.7 126.6,158.2 127.0,158.3 127.3,159.6 127.7,158.2 128.0,155.7 127.8,158.4 128.1,135.1 128.5,160.4 128.9,158.4 128.3,156.8 128.7,158.3 129.0,155.8 129.4,158.4 129.7,156.9 130.0,156.0 130.4,156.5 130.7,157.1 131.1,157.9 131.0,158.1 131.3,141.6 131.7,160.1 132.1,158.1 131.4,157.1 131.7,156.1 132.1,157.8 132.4,158.8 132.8,158.2 133.1,155.4 133.4,160.7 133.8,156.6 134.1,156.9 134.5,159.5 134.8,158.5 135.1,160.5 135.5,155.9 135.8,157.1 136.2,157.4 136.5,158.0 136.8,156.4 137.2,156.7 137.2,157.7 137.5,133.0 137.8,159.7 138.3,157.7 137.5,155.7 137.9,156.9 138.2,155.6 138.5,160.6 138.9,158.0 139.2,160.6 139.6,154.7 139.9,156.6 140.2,154.7 140.6,157.2 140.9,157.7 141.3,155.7 141.0,157.4 141.3,135.2 141.6,159.4 142.1,157.4 141.6,156.4 141.9,157.0 142.3,157.1 142.6,158.2 143.0,155.6 143.3,157.4 143.6,156.4 144.0,155.4 144.3,155.2 144.7,157.9 145.0,156.5 145.3,157.0 145.2,157.1 145.5,129.4 145.8,159.1 146.3,157.1 145.7,154.7 146.0,154.5 146.4,155.4 146.7,156.7 147.0,155.9 147.4,156.7 147.7,156.3 148.1,157.6 148.4,156.4 148.7,153.6 149.1,154.3 149.4,159.0 149.8,156.9 150.1,154.7 149.9,156.7 150.2,127.8 150.6,158.7 151.0,156.7 150.4,155.5 150.8,157.2 151.1,156.7 151.5,154.1 151.8,155.3 152.1,154.7 152.5,156.2 152.8,154.8 152.8,156.5 153.1,128.1 153.5,158.5 153.9,156.5 153.2,154.7 153.5,156.2 153.8,155.1 154.2,156.2 154.5,155.4 154.9,157.2 155.2,156.4 155.5,154.9 155.9,156.6 156.2,155.8 156.6,154.4 156.9,156.5 157.2,154.5 157.2,156.1 157.5,127.7 157.9,158.1 158.3,156.1 157.6,155.7 157.9,154.3 158.3,155.1 158.6,155.9 158.9,155.5 159.3,157.2 159.6,154.4 160.0,153.8 160.3,155.8 160.6,153.6 161.0,156.2 161.3,153.3 161.7,155.5 162.0,155.3 161.9,155.8 162.2,123.3 162.5,157.8 163.0,155.8 162.3,152.6 162.7,152.6 163.0,152.7 163.4,154.6 163.7,155.6 164.0,153.8 164.4,156.4 164.7,154.4 165.1,154.8 165.4,153.9 165.7,155.6 166.1,157.2 165.9,155.5 166.2,129.6 166.5,157.5 167.0,155.5 166.4,152.8 166.8,154.9 167.1,153.6 167.4,157.5 167.8,154.3 168.1,153.9 168.5,154.7 168.8,154.6 169.1,158.0 169.5,153.8 169.8,155.9 170.2,157.9 170.1,155.1 170.4,127.9 170.8,157.1 171.2,155.1 170.5,151.7 170.8,155.3 171.2,153.8 171.5,154.3 171.9,153.3 172.2,154.7 172.5,154.8 172.9,152.7 173.2,153.4 173.6,153.7 173.9,153.7 173.7,154.0 174.0,122.6 174.4,156.0 174.8,154.0 174.2,153.4 174.6,152.1 174.9,154.0 175.3,152.7 175.6,154.0 175.9,153.9 176.3,152.3 176.1,153.3 176.4,122.9 176.8,155.3 177.2,153.3 176.6,153.2 177.0,152.0 177.3,150.3 177.6,153.4 178.0,151.9 178.3,150.6 178.7,151.4 179.0,152.9 179.3,150.5 179.7,149.9 180.0,153.5 180.4,153.3 180.7,151.5 180.6,152.1 180.9,118.1 181.2,154.1 181.7,152.1 181.0,151.2 181.4,151.9 181.7,150.0 182.1,149.0 182.4,151.8 182.7,149.7 183.1,150.7 183.4,149.0 183.8,149.9 184.1,146.1 184.4,148.8 184.8,150.3 185.1,150.5 185.1,150.7 185.4,118.7 185.7,152.7 186.2,150.7 185.5,150.0 185.8,148.4 186.1,149.6 186.5,150.0 186.8,147.4 187.2,150.2 187.5,148.6 187.8,148.9 187.7,150.0 188.0,129.0 188.4,152.0 188.8,150.0 188.2,150.2 188.5,148.6 188.9,148.7 189.2,152.0 189.5,150.6 189.9,150.5 190.2,146.4 190.6,150.4 190.9,147.8 191.2,149.4 191.6,151.4 191.9,147.0 192.3,147.1 192.6,148.4 192.9,149.9 193.3,148.4 193.6,148.8 194.0,147.9 194.3,149.2 194.3,148.1 194.6,125.2 195.0,150.1 195.4,148.1 194.6,147.9 195.0,148.1 195.3,144.8 195.7,145.7 196.0,146.2 196.3,150.8 196.7,147.5 197.0,146.3 197.4,146.2 197.7,147.9 198.0,148.2 198.4,146.1 198.7,145.8 199.1,146.7 199.4,144.6 199.7,144.8 199.5,146.6 199.8,116.6 200.1,148.6 200.6,146.6 200.1,144.4 200.4,144.4 200.8,147.6 201.1,145.2 201.4,146.1 201.8,145.9 202.1,144.9 202.5,145.7 202.8,145.5 203.1,146.9 203.5,144.3 203.8,144.5 203.7,144.8 204.0,120.4 204.3,146.8 204.8,144.8 204.2,142.9 204.5,144.7 204.8,143.5 205.2,144.0 205.5,144.1 205.9,142.5 206.2,142.6 206.5,143.6 206.9,143.0 207.2,141.4 207.6,140.1 207.9,142.2 208.2,142.2 208.6,143.5 208.9,144.3 209.3,141.5 209.6,144.2 209.9,141.0 210.3,140.0 210.6,144.2 210.5,141.9 210.8,116.2 211.2,143.9 211.6,141.9 211.0,142.2 211.3,141.6 211.6,141.9 212.0,139.8 212.3,139.3 212.7,138.1 213.0,142.5 213.3,135.7 213.7,138.7 214.0,138.7 214.0,140.3 214.3,118.5 214.6,142.3 215.1,140.3 214.4,139.4 214.7,139.1 215.0,139.2 215.4,140.0 215.7,137.1 216.1,138.7 216.4,141.0 216.7,139.5 217.1,138.7 217.4,136.7 217.2,137.9 217.5,126.8 217.8,139.9 218.3,137.9 217.8,136.2 218.1,135.2 218.4,134.8 218.8,137.8 219.1,136.7 219.5,138.7 219.8,141.2 220.1,134.4 220.0,138.1 220.3,131.2 220.7,140.1 221.1,138.1 220.5,138.6 220.8,139.0 221.2,134.1 221.5,138.3 221.8,138.0 222.2,139.6 222.5,136.6 222.9,141.3 222.7,138.8 223.0,123.5 223.3,140.8 223.8,138.8 223.2,141.8 223.5,137.6 223.9,138.1 224.2,141.1 224.6,135.6 224.9,138.6 225.2,137.0 225.6,138.7 225.9,139.2 226.3,140.3 226.6,139.4 226.9,139.6 227.3,138.3 227.6,139.7 228.0,139.8 228.3,139.4 228.6,141.1 229.0,138.9 229.3,139.8 229.7,140.3 230.0,140.1 230.3,139.8 230.7,140.3 231.0,138.1 231.4,140.2 231.7,142.1 232.0,139.2 232.4,140.7 232.7,140.9 233.1,139.3 233.4,140.2 233.7,140.8 234.1,138.3 234.4,141.6 234.8,140.9 235.1,142.1 235.4,142.3 235.8,142.6 236.1,141.0 236.5,141.1 236.8,142.4 237.1,140.9 237.5,141.6 237.8,141.2 238.2,143.8 238.5,141.6 238.8,143.2 239.2,142.0 239.5,142.7 239.9,140.6 240.2,144.8 240.5,144.2 240.9,143.3 241.2,141.3 241.6,141.0 241.9,143.4 242.2,142.2 242.6,143.0 242.9,144.4 243.3,142.7 243.6,142.5 243.9,145.4 244.3,142.9 244.6,144.4 245.0,146.0 245.3,142.6 245.6,144.4 246.0,143.7 246.3,142.6 246.7,145.6 247.0,144.1 247.3,141.0 247.7,143.6 248.0,143.2 248.4,144.4 248.7,146.6 249.0,144.8 249.4,144.8 249.7,143.6 250.1,147.9 250.4,147.1 250.7,143.4 251.1,144.5 251.4,143.5 251.8,146.3 252.1,147.0 252.4,144.6 252.8,144.9 253.1,149.1 253.5,146.9 253.8,146.1 254.1,144.6 254.5,144.9 254.8,145.1 255.2,145.4 255.5,146.6 255.8,145.3 256.2,146.0 256.5,145.8 256.9,146.5 257.2,145.6 257.5,146.6 257.9,148.6 258.2,146.9 258.6,147.1 258.9,147.9 259.2,146.0 259.6,146.9 259.9,148.2 260.3,145.8 260.6,146.7 260.9,148.1 261.3,147.1 261.6,146.1 262.0,149.7 262.3,146.1 262.6,148.6 263.0,151.1 263.3,150.5 263.7,146.5 264.0,146.6 264.3,148.5 264.7,146.7 265.0,147.9 265.4,147.7 265.7,146.1 266.0,148.5 266.4,149.6 266.7,147.2 267.1,148.8 267.4,148.0 267.7,146.8 268.1,147.1 268.4,147.9 268.8,149.6 269.1,149.2 269.4,148.3 269.8,148.8 270.1,149.2 270.5,149.3 270.8,149.4 271.1,149.5 271.5,149.2 271.8,150.9 272.2,148.6 272.5,147.6 272.8,151.1 273.2,150.2 273.5,148.9 273.9,150.8 274.2,149.7 274.5,150.0 274.9,149.3 275.2,150.1 275.6,151.5 275.9,151.9 276.2,152.5 276.6,150.9 276.9,152.3 277.3,151.5 277.6,152.7 277.9,150.8 278.3,148.5 278.6,151.3 279.0,152.6 279.3,153.9 279.6,151.7 280.0,152.1 280.3,150.1 280.7,151.2 281.0,152.9 281.0,152.0 281.4,99.0 282.0,99.0 282.6,140.0 283.4,162.6 284.2,160.0 285.0,164.0 285.8,158.0 286.6,164.5 287.5,159.0 288.3,165.0 289.2,160.5 290.0,165.5 291.0,162.0 292.0,166.0 294.0,167.5 296.0,169.0 297.5,170.0 299.0,170.2 301.5,169.5 302.3,161.0 303.2,163.5 305.0,165.6 306.0,165.0 306.7,165.8 307.4,167.0 308.1,166.9 308.8,166.1 309.5,167.5 310.2,166.5 310.9,167.5 311.6,166.2 312.3,167.3 313.0,167.3 313.7,166.9 314.4,167.3 315.1,166.7 315.8,167.2 316.5,167.4 317.2,168.0 317.9,167.5 318.6,167.9 319.3,167.9 320.0,167.8 320.7,167.9 321.4,167.4 322.1,168.3 322.8,168.5 323.5,168.5 324.2,168.5 324.9,168.4 325.6,169.2 326.3,168.9 327.0,169.2 327.7,169.2 328.4,169.8 329.1,169.2 329.8,169.7 330.5,170.4 331.2,170.0 331.9,170.2 332.6,169.3 333.3,169.2 334.0,170.0 334.7,171.0 335.4,169.2 336.1,170.5 336.8,169.9 337.5,170.8 338.2,170.1 338.9,171.1 339.6,170.2 340.3,170.6 341.0,169.6 341.7,170.8 342.4,170.8 343.1,171.0 343.8,171.3 344.5,172.1 345.2,170.7 345.9,170.1 346.6,171.1 347.3,171.4 348.0,171.4 348.7,171.6 349.4,171.8 350.1,171.7 350.8,171.2 351.5,170.9 352.2,171.3 352.9,172.1 353.6,171.8 354.3,171.7 355.0,171.5 355.7,171.7 356.4,172.1 357.1,173.0 357.8,172.6 358.5,172.4 359.2,171.9 359.9,171.7 360.6,172.5 361.3,171.8 362.0,172.5 362.7,172.7 363.4,172.6 364.1,173.3 364.8,173.2 365.6,173.0 365.9,99.0 367.2,99.0 367.7,120.5 368.3,140.0 369.1,152.0 369.8,130.0 370.6,110.0 371.4,99.0 372.0,99.0 372.6,110.0 373.6,124.4 374.6,140.0 375.6,134.0 376.5,146.0 377.5,153.8 378.5,147.0 379.5,142.0 380.5,152.0 381.5,159.7 382.7,162.0 383.6,165.6 384.3,124.4 384.9,99.0 385.4,99.0 385.8,130.0 386.2,99.0 386.7,118.0 387.2,99.0 387.7,125.0 388.1,99.0 388.6,112.0 389.0,99.0 389.3,183.2"/>
<polyline fill="none" stroke="#c4000c" stroke-width="1.7" stroke-linejoin="round"  points="395.0,182.7 395.8,182.3 396.6,182.4 397.4,182.1 398.2,182.8 399.0,182.3 399.8,182.9 400.6,182.6 401.4,182.3 402.2,183.1 403.0,183.3 403.8,182.3 404.6,181.7 405.4,182.6 406.2,182.4 407.0,182.4 407.8,182.8 408.6,182.8 409.4,182.7 410.2,182.7 411.0,182.3 411.8,183.4 412.6,182.4 413.4,181.5 414.2,182.4 415.0,182.4 415.8,182.8 416.6,182.0 417.4,182.9 418.2,181.8 419.0,182.9 419.8,182.6 420.6,181.8 421.4,182.7 422.2,182.4 423.0,182.0 423.8,182.4 424.6,182.1 425.4,182.5 426.2,182.3 427.0,182.0 427.8,182.5 428.6,182.3 429.4,182.1 430.2,181.7 431.0,183.1 431.8,182.8 432.6,182.8 433.4,181.9 434.2,181.4 435.0,182.5 435.8,181.8 436.6,182.3 437.4,182.6 438.2,182.8 439.0,183.1 439.8,182.0 440.6,182.9 441.4,183.0 442.2,182.2 443.0,182.5 443.8,182.1 444.6,182.3 445.4,181.6 446.2,182.1 447.0,182.8 447.8,182.5 448.6,182.2 449.4,182.9 450.2,182.1 451.0,182.6 451.8,182.2 452.6,183.0 453.4,182.9"/>
</g>
<polyline fill="none" stroke="#1c1c8e" stroke-width="2.1" stroke-linejoin="round" stroke-linejoin="miter" points="54.5,103.2 60.8,103.2 60.8,130.4 65.5,130.4 65.6,127.8 65.7,130.4 69.5,130.4 69.6,128.0 69.7,130.4 72.9,130.4 73.0,128.0 73.1,130.4 77.2,130.4 77.3,127.8 77.4,130.4 81.5,130.4 81.6,127.6 81.7,130.4 85.8,130.4 85.9,123.2 86.0,130.4 90.1,130.4 90.2,125.2 90.3,130.4 109.8,130.4 109.8,141.0 114.6,141.0 114.6,130.4 214.2,130.4 214.2,169.7 293.8,169.7 293.8,183.3"/>
<polyline fill="none" stroke="#fc0006" stroke-width="1.3" stroke-linejoin="round"  points="54.5,100.4 55.5,100.2 56.5,100.2 57.5,99.9 58.5,101.1 59.5,100.4 60.5,99.6 61.5,100.6 62.5,100.9 63.5,101.2 64.5,101.0 65.5,101.0 66.5,100.8 67.5,100.6 68.5,100.7 69.5,100.9 70.5,99.6 71.5,100.2 72.5,99.9 73.5,100.6 74.5,100.3 75.5,100.2 76.5,101.0 77.5,101.8 78.5,100.1 79.5,100.5 80.5,100.7 81.5,100.1 82.5,100.1 83.5,100.8 84.5,100.6 85.5,100.2 86.5,100.6 87.5,101.1 88.5,100.5 89.5,101.0 90.5,101.3 91.5,100.9 92.5,100.3 93.5,100.2 94.5,100.6 95.5,100.6 96.5,100.7 97.5,100.5 98.5,100.2 99.5,100.6 100.5,100.6 101.5,101.0 102.5,99.9 103.5,101.4 104.5,101.3 105.5,100.9 106.5,100.5 107.5,99.7 108.5,101.0 109.5,101.0 110.5,100.3 111.5,100.3 112.5,100.3 113.5,100.7 114.5,100.2 115.5,100.1 116.5,100.1 117.5,100.4 118.5,100.6 119.5,101.0 120.5,100.9 121.5,101.1 122.5,100.7 123.5,101.3 124.5,99.8 125.5,101.0 126.5,99.8 127.5,100.2 128.6,100.3 129.6,101.1 130.6,100.6 131.6,100.2 132.6,100.2 133.6,100.8 134.6,100.6 135.6,99.9 136.6,100.9 137.6,100.5 138.6,100.8 139.6,101.4 140.6,101.1 141.6,100.5 142.6,101.7 143.6,100.3 144.6,100.4 145.6,100.2 146.6,100.7 147.6,100.6 148.6,100.5 149.6,101.3 150.6,100.7 151.6,100.2 152.6,100.4 153.6,101.0 154.6,100.8 155.6,100.8 156.6,101.1 157.6,100.3 158.6,100.5 159.6,100.1 160.6,100.7 161.6,100.7 162.6,100.5 163.6,100.1 164.6,101.1 165.6,100.3 166.6,100.5 167.6,100.7 168.6,101.3 169.6,100.3 170.6,99.4 171.6,100.8 172.6,100.4 173.6,100.1 174.6,100.4 175.6,100.8 176.6,101.2 177.6,100.8 178.6,101.0 179.6,100.5 180.6,101.3 181.6,100.5 182.6,100.8 183.6,101.2 184.6,100.4 185.6,100.8 186.6,100.5 187.6,99.7 188.6,100.4 189.6,99.9 190.6,101.1 191.6,100.6 192.6,100.2 193.6,101.0 194.6,100.7 195.6,100.8 196.6,100.4 197.6,101.6 198.6,101.4 199.6,100.3 200.0,100.8 205.0,100.2 210.0,99.6 215.0,99.0 218.0,98.8 221.0,97.6 225.0,96.7 228.0,96.2 231.0,94.5 233.0,94.8 235.0,92.0 238.0,90.5 240.0,88.0 242.0,85.4 245.0,84.5 247.0,82.5 250.0,81.2 252.0,81.8 254.0,80.0 256.0,80.3 258.0,79.0 260.0,79.3 263.0,77.4 265.0,78.2 267.0,80.6 268.5,80.0 270.0,78.3 271.5,79.5 273.0,81.2 275.0,80.5 278.0,79.6 280.0,77.0 281.4,73.2 282.2,82.0 283.0,88.6 285.0,92.5 287.0,95.0 289.5,96.5 292.0,98.3 294.0,99.5 296.0,101.2 299.0,100.8 300.3,96.0 301.5,92.0 303.0,93.0 304.5,94.6 306.0,95.0 309.0,97.5 312.0,99.0 316.0,100.2 320.0,100.8 322.0,101.0 323.5,100.3 325.0,100.3 326.5,100.4 328.0,100.9 329.5,100.6 331.0,100.9 332.5,100.9 334.0,100.6 335.5,100.5 337.0,100.5 338.5,100.4 340.0,100.2 341.5,99.2 343.0,99.5 344.5,98.8 346.0,99.4 347.5,99.2 349.0,98.7 350.5,99.4 352.0,98.7 353.5,98.9 355.0,98.9 356.5,98.8 358.0,98.7 359.5,99.1 361.0,99.2 362.5,99.0 363.6,99.5 364.4,92.0 365.4,70.0 366.0,62.0 366.8,70.0 367.8,81.0 368.6,70.0 369.4,58.0 370.0,52.4 370.8,62.0 371.8,85.0 372.8,100.5 375.0,100.8 376.0,96.0 377.0,85.0 378.0,77.0 379.5,66.0 381.0,56.0 382.2,50.5 383.2,54.0 384.0,60.0 384.8,72.0 385.6,90.0 386.3,100.8 392.0,101.0 394.0,101.8 454.0,101.9"/>
<polyline fill="none" stroke="#0a0a0a" stroke-width="1.45" stroke-linejoin="round"  points="54.5,37.0 55.5,37.1 56.5,36.3 57.5,37.1 58.5,37.3 59.5,36.5 60.5,36.5 61.5,36.8 62.5,36.7 63.5,36.2 64.5,36.8 65.5,36.3 66.5,36.4 67.5,36.6 68.5,36.5 69.5,36.7 70.5,36.8 71.5,36.5 72.5,36.4 73.5,37.0 74.5,36.7 75.5,36.5 76.5,36.6 77.5,36.4 78.5,36.5 79.5,36.2 80.5,36.7 81.5,36.7 82.5,36.8 83.5,36.4 84.5,36.7 85.5,36.3 86.5,36.6 87.5,36.5 88.5,36.3 89.5,36.6 90.5,36.4 91.5,36.6 92.5,36.5 93.5,36.6 94.5,36.5 95.5,36.4 96.5,36.5 97.5,36.4 98.5,36.5 99.5,36.1 100.5,36.8 101.5,36.8 102.5,36.5 103.5,36.7 104.5,36.4 105.5,36.8 106.5,36.4 107.5,36.5 108.5,36.7 109.5,36.4 110.5,36.5 111.5,36.7 112.5,36.5 113.5,36.5 114.5,36.3 115.5,36.6 116.5,36.5 117.5,36.5 118.5,36.2 119.5,36.7 120.5,36.4 121.5,36.3 122.5,36.5 123.5,36.7 124.5,36.5 125.5,36.5 126.5,36.4 127.5,36.4 128.6,36.6 129.6,36.3 130.6,36.8 131.6,36.6 132.6,36.7 133.6,36.5 134.6,36.7 135.6,36.4 136.6,36.3 137.6,36.5 138.6,36.2 139.6,36.1 140.6,36.5 141.6,36.6 142.6,36.5 143.6,36.3 144.6,36.5 145.6,36.5 146.6,36.5 147.6,36.7 148.6,36.2 149.6,36.3 150.6,36.4 151.6,36.5 152.6,36.6 153.6,36.6 154.6,36.4 155.6,36.5 156.6,36.5 157.6,36.5 158.6,36.6 159.6,36.3 160.6,36.3 161.6,36.6 162.6,36.5 163.6,36.4 164.6,36.5 165.6,36.6 166.6,36.6 167.6,36.2 168.6,36.4 169.6,36.7 170.6,36.6 171.6,36.8 172.6,36.1 173.6,36.6 174.6,36.6 175.6,36.5 176.6,36.8 177.6,36.4 178.6,36.7 179.6,36.7 180.6,36.3 181.6,36.5 182.6,36.2 183.6,36.6 184.6,36.3 185.6,36.6 186.6,36.4 187.6,36.4 188.6,36.3 189.6,36.8 190.6,36.8 191.6,36.9 192.6,36.1 193.6,36.0 194.6,36.5 195.6,36.5 196.6,36.4 197.6,36.6 198.6,36.4 199.6,36.5 200.6,36.4 201.6,36.4 202.6,36.6 203.6,36.7 204.6,36.5 205.6,36.6 206.6,36.4 207.6,36.1 208.6,36.7 209.6,36.4 210.6,36.5 211.6,36.6 212.6,36.3 213.6,36.5 214.6,36.5 215.0,36.9 222.0,37.6 230.0,38.8 238.6,39.6 250.0,39.5 265.0,39.2 280.6,39.0 281.5,36.9 282.4,40.0 286.0,41.8 290.7,42.4 296.0,41.9 300.0,41.2"/>
<polyline fill="none" stroke="#0a0a0a" stroke-width="1.95" stroke-linejoin="round"  points="300.0,41.2 303.0,40.6 312.0,39.9 320.0,40.3 330.0,41.2 340.0,42.2 350.0,43.4 360.5,44.7 364.8,45.5 365.6,40.6 366.3,41.0 367.0,45.6 368.5,49.6 370.5,53.3 374.0,59.8 377.0,63.3 380.0,66.3 383.0,69.0 385.0,71.2 386.0,70.2 387.0,75.5 388.2,78.5 389.0,82.0 389.7,88.0 390.2,95.0 391.2,100.6 392.5,101.7 454.0,102.0"/>
<g clip-path="url(#cpd)">
<polyline fill="none" stroke="#fc0006" stroke-width="1.45" stroke-linejoin="round"  points="54.5,338.5 54.9,335.9 55.3,332.1 55.7,327.5 56.1,320.6 56.5,312.0 56.8,304.8 56.9,309.4 57.3,320.6 57.7,328.7 58.1,333.6 58.5,337.3 58.9,340.0 59.3,341.6 59.7,342.6 60.1,343.1 60.5,343.0 60.9,342.3 61.3,341.0 61.7,340.6 62.1,341.9 62.5,342.4 62.9,342.8 63.3,341.5 63.7,340.5 64.1,337.9 64.5,334.0 64.9,337.1 65.3,339.0 65.7,338.6 66.1,335.7 66.5,337.8 66.9,339.2 67.3,339.8 67.7,340.0 68.1,339.9 68.5,338.5 68.9,337.7 69.3,336.4 69.7,335.4 70.1,333.4 70.5,331.1 70.9,328.3 71.3,325.4 71.7,321.7 72.1,317.4 72.5,312.8 72.9,307.3 73.0,305.7 73.3,314.6 73.7,322.5 74.1,328.2 74.5,332.6 74.9,335.9 75.3,338.1 75.7,340.0 76.1,341.2 76.5,342.6 76.9,343.1 77.3,343.8 77.7,344.1 78.1,344.4 78.5,344.6 78.9,344.2 79.3,344.4 79.7,344.2 80.1,343.7 80.5,343.8 80.9,343.4 81.3,343.2 81.7,342.5 82.1,342.1 82.5,341.4 82.9,340.5 83.3,339.3 83.7,338.4 84.1,337.4 84.5,335.7 84.9,333.9 85.3,332.1 85.7,329.2 86.1,326.6 86.5,323.2 86.9,318.6 87.3,314.9 87.3,315.9 87.7,323.0 88.1,329.2 88.5,333.0 88.9,336.5 89.3,338.8 89.7,340.5 90.1,341.7 90.5,342.5 90.9,343.1 91.3,344.1 91.7,344.1 92.1,344.5 92.5,345.0 92.9,345.0 93.3,344.7 93.7,344.5 94.1,344.8 94.5,344.4 94.9,344.2 95.3,344.0 95.7,343.2 96.1,343.4 96.5,342.3 96.9,342.0 97.3,340.9 97.7,340.1 98.1,339.1 98.5,338.2 98.9,336.7 99.3,334.3 99.7,332.5 100.1,329.6 100.5,326.6 100.9,323.4 101.0,322.2 101.3,328.3 101.7,332.9 102.1,336.4 102.5,338.8 102.9,340.6 103.3,341.8 103.7,342.9 104.1,343.9 104.5,344.0 104.9,344.2 105.3,344.8 105.7,345.3 106.1,344.7 106.5,344.8 106.9,345.0 107.3,344.9 107.7,344.7 108.1,344.5 108.5,344.3 108.9,343.8 109.3,343.4 109.7,343.1 110.1,342.6 110.5,341.8 110.9,341.2 111.3,339.6 111.7,339.1 112.1,337.5 112.5,336.1 112.9,333.4 113.3,331.5 113.7,327.9 114.0,326.1 114.1,328.3 114.5,333.1 114.9,336.2 115.3,339.1 115.7,341.2 116.1,342.0 116.5,343.2 116.9,344.0 117.3,344.2 117.7,344.6 118.1,344.5 118.5,344.7 118.9,345.0 119.3,345.1 119.7,344.6 120.1,345.1 120.5,344.6 120.9,344.6 121.3,344.3 121.7,343.8 122.1,343.7 122.5,343.0 122.9,342.4 123.3,341.2 123.7,340.2 124.1,338.9 124.5,337.2 124.9,335.6 125.3,333.4 125.7,330.9 126.0,328.5 126.1,330.9 126.5,335.0 126.9,338.2 127.3,340.4 127.7,342.0 128.1,343.0 128.5,343.8 128.9,344.1 129.3,345.3 129.7,345.6 130.1,345.1 130.5,345.2 130.9,345.7 131.3,345.6 131.7,345.7 132.1,345.6 132.5,345.4 132.9,345.2 133.3,345.1 133.7,344.9 134.1,344.3 134.5,344.2 134.9,343.7 135.3,342.9 135.7,341.1 136.1,339.6 136.5,337.6 136.5,338.1 136.9,341.2 137.3,343.2 137.7,344.2 138.1,345.2 138.5,345.3 138.9,345.6 139.3,345.7 139.7,345.7 140.1,345.7 140.5,345.8 140.9,345.8 141.3,345.6 141.7,345.1 142.1,345.0 142.5,344.8 142.9,344.1 143.3,343.4 143.7,342.6 144.1,341.0 144.5,338.7 144.6,338.5 144.9,341.2 145.3,343.4 145.7,344.6 146.1,344.9 146.5,345.5 146.9,345.7 147.3,345.8 147.7,345.6 148.1,345.7 148.5,345.8 148.9,345.8 149.3,345.7 149.7,345.9 150.1,345.7 150.5,345.7 150.9,345.7 151.3,345.5 151.7,345.1 152.1,344.6 152.5,344.1 152.9,343.0 153.3,341.4 153.6,340.4 153.7,341.7 154.1,343.6 154.5,344.1 154.9,344.9 155.3,345.4 155.7,345.7 156.1,345.9 156.5,345.9 156.9,345.8 157.3,346.1 157.7,346.0 158.1,345.9 158.5,345.7 158.9,345.5 159.3,345.9 159.7,346.0 160.1,346.0 160.5,345.9 160.9,345.7 161.3,345.2 161.7,345.0 162.1,344.9 162.5,344.2 162.9,343.3 163.3,342.5 163.5,341.2 163.7,343.0 164.1,344.2 164.5,345.2 164.9,345.6 165.3,345.7 165.7,346.3 166.1,345.8 166.5,345.9 166.9,345.9 167.3,346.0 167.7,346.0 168.1,345.6 168.5,345.6 168.9,345.7 169.3,345.4 169.7,345.3 170.1,344.5 170.5,344.0 170.9,342.9 171.3,343.6 171.7,344.9 172.1,345.0 172.5,345.9 172.9,346.2 173.3,346.0 173.7,346.1 174.1,345.8 174.5,345.6 174.9,345.9 175.3,345.9 175.7,345.3 176.1,345.6 176.5,344.9 176.9,344.6 177.3,343.4 177.7,343.3 178.1,344.1 178.5,345.2 178.9,345.5 179.3,345.7 179.7,345.8 180.1,345.8 180.5,345.9 180.9,346.1 181.3,345.8 181.7,345.3 182.1,345.3 182.5,345.2 182.9,344.9 183.3,344.4 183.7,343.5 184.1,343.2 184.5,344.2 184.9,345.0 185.3,345.4 185.7,345.6 186.1,345.7 186.5,346.2 186.9,345.5 187.3,345.7 187.7,346.0 188.1,345.9 188.5,345.6 188.9,345.3 189.3,345.3 189.7,345.2 190.1,343.8 190.5,343.1 190.9,344.4 191.3,344.9 191.7,345.8 192.1,345.8 192.5,345.8 192.9,345.9 193.3,346.1 193.7,345.9 194.1,345.7 194.5,345.6 194.9,345.4 195.3,345.3 195.7,345.1 196.1,344.2 196.5,343.4 196.9,344.5 197.3,345.2 197.7,345.4 198.1,345.7 198.5,345.7 198.9,345.8 199.3,346.1 199.7,345.6 200.1,345.6 200.5,345.1 200.9,344.8 201.3,343.9 201.7,344.1 202.1,344.9 202.5,345.7 202.9,345.5 203.3,345.3 203.7,345.7 204.1,346.0 204.5,345.6 204.9,345.5 205.3,345.4 205.7,345.0 206.1,343.9 206.5,344.6 206.9,345.1 207.3,345.4 207.7,345.8 208.1,346.0 208.5,345.8 208.9,345.6 209.3,345.8 209.7,345.5 210.1,345.6 210.5,344.9 210.9,344.1 211.3,344.6 211.7,345.3 212.1,345.6 212.5,345.7 212.9,345.9 213.3,345.7 213.7,346.0 214.1,345.3 214.5,344.8 214.9,344.7 215.3,345.5 215.7,345.4 216.1,345.7 216.5,346.1 216.9,346.1 217.3,346.1 217.7,345.9 218.1,345.9 218.5,346.0 218.9,345.8 219.3,346.0 219.7,346.2 220.1,346.0 220.5,345.7 220.9,346.0 221.3,345.7 221.7,345.8 222.1,345.9 222.5,346.1 222.9,346.4 223.3,345.8 223.7,346.3 224.1,345.9 224.5,346.1 224.9,346.1 225.3,345.9 225.7,346.1 226.1,346.2 226.5,346.0 226.9,346.2 227.3,345.7 227.7,346.1 228.1,346.2 228.5,346.1 228.9,345.8 229.3,346.0 229.7,346.0 230.1,346.1 230.5,345.7 230.9,346.1 231.3,345.8 231.7,345.8 232.1,346.1 232.5,346.0 232.9,346.0 233.3,346.2 233.7,346.0 234.1,346.0 234.5,346.0 234.9,346.1 235.3,346.0 235.7,346.0 236.1,346.0 236.5,345.7 236.9,346.0 237.3,345.6 237.7,346.0 238.1,345.9 238.5,346.1 238.9,345.9 239.3,345.8 239.7,346.0 240.1,346.1 240.5,345.9 240.9,345.7 241.3,346.2 241.7,345.7 242.1,345.9 242.5,346.1 242.9,346.3 243.3,346.0 243.7,345.7 244.1,346.0 244.5,345.8 244.9,345.9 245.3,345.9 245.7,345.9 246.1,345.9 246.5,346.3 246.9,345.9 247.3,345.6 247.7,346.2 248.1,346.1 248.5,345.9 248.9,346.0 249.3,346.4 249.7,346.1 250.1,345.6 250.5,346.0 250.9,345.7 251.3,346.0 251.7,346.1 252.1,346.0 252.5,345.9 252.9,346.0 253.3,346.1 253.7,346.2 254.1,346.2 254.5,346.1 254.9,345.9 255.3,346.1 255.7,346.1 256.1,345.8 256.5,345.8 256.9,346.3 257.3,346.2 257.7,345.9 258.1,345.7 258.5,345.9 258.9,346.1 259.3,346.0 259.7,346.1 260.1,346.0 260.5,346.3 260.9,346.0 261.3,346.2 261.7,345.8 262.1,346.1 262.5,345.9 262.9,345.9 263.3,345.7 263.7,346.2 264.1,346.0 264.5,345.8 264.9,345.9 265.3,345.8 265.7,345.7 266.1,345.6 266.5,346.1 266.9,345.9 267.3,346.2 267.7,345.9 268.1,345.7 268.5,345.9 268.9,346.4 269.3,346.2 269.7,345.8 270.0,345.6 270.4,346.3 270.8,345.4 271.2,345.5 271.6,345.6 272.0,345.2 272.4,345.2 272.8,345.1 273.2,345.3 273.6,345.5 274.0,345.5 274.4,345.0 274.8,344.8 275.2,344.3 275.6,344.4 276.0,344.2 276.4,344.0 276.8,343.4 277.2,342.7 277.6,341.8 278.0,340.7 278.4,338.9 278.8,337.0 279.2,333.7 279.6,329.4 280.0,323.0 280.4,314.4 280.8,301.4 281.2,285.5 281.6,261.4 281.6,261.2 282.0,290.5 282.4,309.8 282.8,322.1 283.2,330.0 283.6,335.0 284.0,338.6 284.4,340.5 284.8,342.0 285.2,343.5 285.6,344.0 286.0,344.5 286.4,344.9 286.8,344.7 287.2,344.9 287.6,345.0 288.0,345.1 288.4,344.7 288.8,345.1 289.2,344.3 289.6,344.0 290.0,342.5 290.4,342.5 290.8,343.5 291.2,344.2 291.6,344.2 292.0,344.8 292.4,344.0 292.8,343.1 293.2,342.4 293.6,343.0 294.0,344.0 294.4,343.8 294.8,344.6 295.2,343.9 295.6,344.0 296.0,343.2 296.4,342.0 296.8,342.4 297.2,343.4 297.6,343.7 298.0,344.3 298.4,344.4 298.8,344.2 299.2,344.5 299.6,344.3 300.0,344.1 300.4,343.6 300.8,343.1 301.2,342.9 301.6,343.5 302.0,343.8 302.4,344.3 302.8,344.0 303.2,344.5 303.6,344.2 304.0,343.8 304.4,342.8 304.8,343.0 305.2,344.0 305.6,343.9 306.0,343.6 306.4,344.4 306.8,344.5 307.2,343.4 307.6,343.6 308.0,344.1 308.4,344.8 308.8,344.6 309.2,345.0 309.6,344.9 310.0,345.1 310.4,344.9 310.8,344.8 311.2,345.0 311.6,345.4 312.0,345.0 312.4,345.1 312.8,345.0 313.2,345.3 313.6,345.1 314.0,345.3 314.4,345.2 314.8,344.8 315.2,344.7 315.6,345.2 316.0,345.4 316.4,345.3 316.8,344.8 317.2,345.2 317.6,345.4 318.0,345.0 318.4,345.2 318.8,345.1 319.2,344.6 319.6,344.9 320.0,344.6 320.4,345.0 320.8,344.6 321.2,344.7 321.6,344.2 322.0,343.8 322.4,344.0 322.8,344.6 323.2,344.8 323.6,344.5 324.0,345.0 324.4,345.0 324.8,345.2 325.2,344.6 325.6,345.1 326.0,345.3 326.4,345.2 326.8,344.7 327.2,345.0 327.6,344.7 328.0,345.1 328.4,345.5 328.8,345.4 329.2,345.4 329.6,345.0 330.0,344.9 330.4,345.0 330.8,345.1 331.2,344.8 331.6,345.2 332.0,344.7 332.4,344.7 332.8,345.0 333.2,344.9 333.6,345.5 334.0,345.1 334.4,345.0 334.8,345.1 335.2,344.8 335.6,345.2 336.0,345.1 336.4,344.8 336.8,345.1 337.2,344.9 337.6,344.8 338.0,345.0 338.4,344.9 338.8,345.1 339.2,345.2 339.6,345.0 340.0,344.8 340.4,344.8 340.8,345.0 341.2,345.2 341.6,345.3 342.0,344.9 342.4,345.0 342.8,345.5 343.2,345.1 343.6,345.4 344.0,345.1 344.4,344.9 344.8,345.5 345.2,345.3 345.6,345.0 346.0,345.2 346.4,344.9 346.8,345.1 347.2,345.1 347.6,345.3 348.0,344.9 348.4,345.1 348.8,345.3 349.2,344.9 349.6,344.8 350.0,345.3 350.4,344.8 350.8,345.3 351.2,345.2 351.6,345.1 352.0,345.3 352.4,344.7 352.8,344.8 353.2,344.8 353.6,345.4 354.0,345.2 354.4,344.9 354.8,345.3 355.2,345.1 355.6,345.3 356.0,345.2 356.4,345.2 356.8,345.0 357.2,345.1 357.6,345.0 358.0,345.3 358.4,345.6 358.8,344.9 359.2,345.1 359.6,344.8 360.0,345.0 360.4,345.2 360.8,345.5 361.2,344.8 361.6,345.4 362.0,345.1 362.4,345.1 362.8,344.8 363.2,344.1 363.6,343.6 364.0,342.0 364.4,338.5 364.8,331.4 365.2,316.8 365.3,311.4 365.6,286.4 365.7,274.6 366.0,296.5 366.1,301.7 366.4,314.2 366.8,323.9 367.2,325.8 367.6,330.6 368.0,334.2 368.4,337.2 368.8,339.2 369.2,340.1 369.6,339.2 370.0,337.6 370.4,337.0 370.8,338.9 371.2,340.6 371.6,341.8 372.0,341.3 372.4,339.8 372.8,340.4 373.2,341.4 373.6,342.4 374.0,342.4 374.4,343.3 374.8,341.4 375.2,341.3 375.6,341.9 376.0,342.9 376.4,343.5 376.8,343.6 377.2,344.5 377.6,344.2 378.0,344.8 378.4,344.4 378.8,344.8 379.2,345.0 379.6,345.0 380.0,345.0 380.4,345.2 380.8,344.9 381.2,345.3 381.6,345.2 382.0,345.5 382.4,345.0 382.8,345.0 383.2,345.5 383.6,345.4 384.0,345.2 384.4,344.6 384.8,343.9 385.2,342.1 385.6,339.2 386.0,341.3 386.4,342.6 386.8,343.6 387.2,343.8 387.6,343.9 388.0,343.5 388.4,342.1 388.8,342.5 389.2,343.6 389.6,343.8 390.0,344.0 390.4,343.6 390.8,343.5 391.2,342.9 391.6,343.9 392.0,344.3 392.4,344.9 392.8,345.1 393.2,345.4 393.6,345.8 394.0,345.5 394.4,345.5 394.8,345.8 395.2,346.0 395.6,345.7 396.0,345.5 396.4,346.0 396.8,345.8 397.2,346.0 397.6,346.2 398.0,346.3 398.4,346.1 398.8,346.1 399.2,345.8 399.6,346.0 400.0,345.9 400.4,345.9 400.8,345.7 401.2,345.9 401.6,345.9 402.0,346.1 402.4,346.3 402.8,346.2 403.2,345.9 403.6,346.1 404.0,346.2 404.4,345.8 404.8,345.6 405.2,345.9 405.6,346.0 406.0,346.0 406.4,345.7 406.8,346.0 407.2,345.9 407.6,346.1 408.0,345.8 408.4,345.9 408.8,345.9 409.2,346.1 409.6,345.8 410.0,345.7 410.4,346.6 410.8,346.2 411.2,346.5 411.6,346.3 412.0,345.7 412.4,346.4 412.8,346.0 413.2,345.7 413.6,345.9 414.0,345.9 414.4,346.3 414.8,346.2 415.2,346.1 415.6,345.9 416.0,345.8 416.4,345.4 416.8,345.7 417.2,346.3 417.6,345.9 418.0,346.0 418.4,346.1 418.8,345.9 419.2,346.0 419.6,345.7 420.0,346.2 420.4,345.9 420.8,346.2 421.2,345.8 421.6,345.8 422.0,346.1 422.4,345.6 422.8,346.0 423.2,346.1 423.6,345.8 424.0,345.9 424.4,346.0 424.8,345.9 425.2,346.1 425.6,345.7 426.0,346.1 426.4,346.3 426.8,346.1 427.2,346.0 427.6,346.0 428.0,345.8 428.4,346.0 428.8,346.1 429.2,346.3 429.6,345.9 430.0,346.1 430.4,345.9 430.8,346.0 431.2,346.1 431.6,345.6 432.0,345.9 432.4,345.9 432.8,346.2 433.2,345.9 433.6,345.7 434.0,346.3 434.4,346.0 434.8,345.7 435.2,346.2 435.6,346.2 436.0,346.4 436.4,346.2 436.8,346.0 437.2,345.7 437.6,345.8 438.0,346.0 438.4,346.1 438.8,345.9 439.2,346.0 439.6,346.2 440.0,345.9 440.4,346.3 440.8,346.0 441.2,346.0 441.6,345.9 442.0,345.9 442.4,345.8 442.8,345.8 443.2,345.9 443.6,346.0 444.0,345.9 444.4,345.7 444.8,346.1 445.2,345.8 445.6,346.2 446.0,345.9 446.4,346.0 446.8,345.8 447.2,345.8 447.6,346.0 448.0,346.1 448.4,346.5 448.8,345.7 449.2,346.2 449.6,345.9 450.0,346.3 450.4,346.2 450.8,345.5 451.2,346.3 451.6,346.2 452.0,346.3 452.4,345.7 452.8,346.3 453.2,345.4 453.6,345.6"/>
<polyline fill="none" stroke="#1c1c8e" stroke-width="1.5" stroke-linejoin="round"  points="54.5,346.1 55.0,345.8 55.5,346.0 56.0,345.4 56.5,345.8 57.0,345.5 57.5,345.5 58.0,345.2 58.5,345.6 59.0,345.7 59.5,345.7 60.0,346.1 60.5,346.1 61.0,346.2 61.5,346.0 62.0,345.8 62.5,346.1 63.0,346.1 63.5,346.0 64.0,345.8 64.5,345.7 65.0,345.5 65.5,345.6 66.0,345.2 66.5,345.3 67.0,345.5 67.5,345.8 68.0,345.9 68.5,346.2 69.0,345.7 69.5,345.8 70.0,346.1 70.5,346.0 71.0,345.9 71.5,345.8 72.0,345.6 72.5,345.2 73.0,344.9 73.5,345.1 74.0,345.5 74.5,345.5 75.0,345.3 75.5,345.5 76.0,345.9 76.5,346.1 77.0,346.0 77.5,346.1 78.0,346.1 78.5,346.1 79.0,345.9 79.5,346.1 80.0,346.2 80.5,346.2 81.0,346.3 81.5,346.2 82.0,346.1 82.5,346.0 83.0,345.9 83.5,346.3 84.0,345.9 84.5,346.3 85.0,346.3 85.5,345.6 86.0,345.6 86.5,345.8 87.0,345.5 87.5,345.2 88.0,345.7 88.5,345.7 89.0,345.7 89.5,346.0 90.0,346.2 90.5,345.8 91.0,346.2 91.5,346.5 92.0,346.3 92.5,346.3 93.0,345.9 93.5,346.1 94.0,346.0 94.5,346.0 95.0,346.0 95.5,346.1 96.0,346.3 96.5,346.5 97.0,346.1 97.5,346.1 98.0,346.1 98.5,346.1 99.0,345.7 99.5,345.8 100.0,345.5 100.5,345.8 101.0,345.5 101.5,345.8 102.0,345.4 102.5,345.9 103.0,345.8 103.5,346.0 104.0,346.1 104.5,346.3 105.0,346.1 105.5,346.0 106.0,346.4 106.5,346.3 107.0,346.1 107.5,346.5 108.0,346.2 108.5,346.2 109.0,346.0 109.5,346.2 110.0,346.2 110.5,346.3 111.0,346.1 111.5,346.0 112.0,346.1 112.5,346.3 113.0,346.2 113.5,346.5 114.0,346.1 114.5,346.3 115.0,345.9 115.5,346.3 116.0,346.1 116.5,346.6 117.0,346.0 117.5,346.1 118.0,346.1 118.5,346.3 119.0,346.1 119.5,346.3 120.0,346.3 120.5,346.4 121.0,346.2 121.5,346.3 122.0,346.4 122.5,346.2 123.0,346.3 123.5,346.6 124.0,346.1 124.5,346.2 125.0,346.1 125.5,346.0 126.0,346.3 126.5,346.3 127.0,346.2 127.5,346.5 128.1,346.1 128.6,346.3 129.1,346.2 129.6,346.0 130.1,346.4 130.6,345.9 131.1,346.4 131.6,346.4 132.1,346.3 132.6,346.3 133.1,346.1 133.6,346.1 134.1,346.6 134.6,346.2 135.1,346.4 135.6,346.1 136.1,346.2 136.6,346.4 137.1,346.2 137.6,346.0 138.1,346.4 138.6,346.2 139.1,346.2 139.6,346.4 140.1,345.9 140.6,346.3 141.1,346.0 141.6,346.2 142.1,346.2 142.6,346.2 143.1,345.8 143.6,346.2 144.1,345.8 144.6,346.2 145.1,346.1 145.6,346.0 146.1,346.1 146.6,346.1 147.1,346.2 147.6,346.1 148.1,345.8 148.6,346.0 149.1,346.2 149.6,346.5 150.1,346.2 150.6,346.0 151.1,346.4 151.6,346.2 152.1,346.2 152.6,346.2 153.1,346.3 153.6,346.1 154.1,346.2 154.6,346.2 155.1,346.4 155.6,346.0 156.1,345.8 156.6,346.6 157.1,346.1 157.6,346.1 158.1,346.1 158.6,346.2 159.1,346.0 159.6,346.2 160.1,346.1 160.6,346.0 161.1,346.2 161.6,346.2 162.1,346.3 162.6,346.4 163.1,346.2 163.6,346.3 164.1,346.1 164.6,346.5 165.1,345.9 165.6,346.1 166.1,346.0 166.6,346.0 167.1,346.2 167.6,346.1 168.1,345.9 168.6,346.0 169.1,345.9 169.6,346.0 170.1,346.1 170.6,346.2 171.1,346.3 171.6,346.2 172.1,346.8 172.6,346.3 173.1,346.3 173.6,346.3 174.1,345.9 174.6,346.2 175.1,346.4 175.6,346.4 176.1,346.3 176.6,346.4 177.1,346.3 177.6,345.8 178.1,346.5 178.6,346.3 179.1,346.2 179.6,346.1 180.1,346.5 180.6,346.1 181.1,346.1 181.6,346.2 182.1,346.4 182.6,346.2 183.1,346.3 183.6,345.9 184.1,346.0 184.6,346.2 185.1,346.2 185.6,346.2 186.1,346.1 186.6,346.1 187.1,346.1 187.6,346.5 188.1,346.3 188.6,345.8 189.1,346.4 189.6,346.1 190.1,346.4 190.6,346.1 191.1,346.0 191.6,346.2 192.1,346.3 192.6,346.1 193.1,346.3 193.6,346.3 194.1,346.4 194.6,346.3 195.1,346.3 195.6,346.5 196.1,346.2 196.6,346.1 197.1,346.1 197.6,346.3 198.1,346.2 198.6,346.0 199.1,346.2 199.6,346.4 200.1,346.5 200.6,346.2 201.1,346.1 201.6,346.1 202.1,346.2 202.6,346.3 203.1,346.3 203.6,346.1 204.1,346.3 204.6,346.1 205.1,346.1 205.6,346.3 206.1,346.6 206.6,346.6 207.1,346.3 207.6,346.3 208.1,346.1 208.6,346.2 209.1,346.1 209.6,346.3 210.1,346.3 210.6,346.1 211.1,346.1 211.6,346.2 212.1,346.4 212.6,346.2 213.1,346.2 213.6,346.0 214.1,346.4 214.6,346.1 215.1,346.5 215.6,346.3 216.1,346.3 216.6,346.0 217.1,346.2 217.6,346.3 218.1,346.3 218.6,346.2 219.1,346.5 219.6,345.9 220.1,346.0 220.6,346.5 221.1,346.3 221.6,346.0 222.1,346.3 222.6,346.4 223.1,346.4 223.6,346.2 224.1,346.2 224.6,346.2 225.1,346.8 225.6,345.7 226.1,346.4 226.6,346.3 227.1,346.5 227.6,346.4 228.1,346.0 228.6,346.4 229.1,346.4 229.6,346.4 230.1,346.3 230.6,346.1 231.1,346.1 231.6,346.1 232.1,346.1 232.6,346.2 233.1,346.0 233.6,346.1 234.1,346.2 234.6,346.1 235.1,346.1 235.6,346.3 236.1,346.2 236.6,346.4 237.1,346.1 237.6,346.2 238.1,346.4 238.6,346.5 239.1,346.2 239.6,346.2 240.1,346.4 240.6,346.2 241.1,346.6 241.6,346.1 242.1,346.1 242.6,345.9 243.1,346.1 243.6,346.4 244.1,346.5 244.6,346.2 245.1,346.1 245.6,346.2 246.1,346.2 246.6,346.2 247.1,346.2 247.6,346.3 248.1,346.3 248.6,346.0 249.1,346.2 249.6,346.2 250.1,346.2 250.6,346.2 251.1,346.2 251.6,346.5 252.1,346.2 252.6,346.3 253.1,346.2 253.6,346.1 254.1,346.2 254.6,346.2 255.1,346.2 255.6,346.1 256.1,346.6 256.6,346.3 257.1,346.1 257.6,346.4 258.1,346.3 258.6,345.9 259.1,346.6 259.6,346.2 260.1,346.1 260.6,346.3 261.1,346.0 261.6,346.2 262.1,346.2 262.6,346.1 263.1,346.2 263.6,346.3 264.1,346.3 264.6,346.3 265.1,345.9 265.6,346.3 266.1,346.3 266.6,346.0 267.1,346.4 267.6,346.1 268.1,346.1 268.6,346.0 269.1,346.4 269.6,346.2 270.1,346.2 270.6,346.1 271.1,346.1 271.6,346.4 272.1,346.0 272.6,346.1 273.1,346.2 273.6,346.7 274.1,346.4 274.6,345.8 275.1,346.3 275.6,346.1 276.1,346.4 276.6,345.9 277.1,345.9 277.6,346.5 278.1,346.3 278.6,346.4 279.1,346.0 279.6,345.8 280.1,345.2 280.6,344.2 281.1,341.9 281.6,337.7 282.0,330.0 282.1,331.0 282.6,338.2 283.1,341.9 283.6,344.0 284.1,345.0 284.6,345.7 285.1,345.8 285.6,346.2 286.1,346.0 286.6,346.2 287.1,346.0 287.6,346.2 288.1,346.1 288.6,346.3 289.1,346.1 289.6,346.0 290.1,346.2 290.6,346.5 291.1,346.3 291.6,346.3 292.1,345.9 292.6,346.2 293.1,346.1 293.6,346.1 294.1,346.3 294.6,346.3 295.1,345.9 295.6,346.1 296.1,346.3 296.6,346.3 297.1,346.4 297.6,346.4 298.1,346.3 298.6,346.1 299.1,345.9 299.6,346.2 300.1,346.0 300.6,346.1 301.1,346.4 301.6,346.1 302.1,346.3 302.6,346.3 303.1,346.2 303.6,346.4 304.1,346.0 304.6,346.5 305.1,346.1 305.6,346.3 306.1,346.3 306.6,346.1 307.1,346.3 307.6,346.3 308.1,346.3 308.6,346.1 309.1,346.3 309.6,346.3 310.1,346.4 310.6,346.3 311.1,345.8 311.6,346.1 312.1,346.2 312.6,346.1 313.1,346.1 313.6,346.2 314.1,346.1 314.6,346.5 315.1,346.2 315.6,346.2 316.1,346.3 316.6,346.2 317.1,346.1 317.6,346.0 318.1,346.4 318.6,346.4 319.1,346.2 319.6,346.2 320.1,346.3 320.6,346.2 321.1,346.2 321.6,346.2 322.1,346.4 322.6,346.2 323.1,346.0 323.6,346.1 324.1,346.3 324.6,346.3 325.1,346.1 325.6,346.4 326.1,346.1 326.6,346.3 327.1,346.3 327.6,345.9 328.1,346.4 328.6,346.3 329.1,345.8 329.6,346.4 330.1,346.2 330.6,346.1 331.1,346.1 331.6,346.1 332.1,346.6 332.6,346.3 333.1,346.0 333.6,346.0 334.1,346.0 334.6,346.3 335.1,346.0 335.6,346.2 336.1,346.4 336.6,346.2 337.1,346.0 337.6,346.1 338.1,346.1 338.6,346.1 339.1,346.6 339.6,346.2 340.1,346.1 340.6,346.0 341.1,346.2 341.6,346.1 342.1,346.0 342.6,346.3 343.1,346.4 343.6,346.3 344.1,345.9 344.6,345.9 345.1,346.4 345.6,346.0 346.1,346.2 346.6,346.1 347.1,346.1 347.6,346.2 348.1,346.2 348.6,346.2 349.1,346.1 349.6,345.9 350.1,346.1 350.6,346.0 351.1,346.4 351.6,346.4 352.1,346.3 352.6,346.0 353.1,346.3 353.6,346.3 354.1,346.5 354.6,346.1 355.1,346.1 355.6,346.2 356.1,346.4 356.6,346.2 357.1,346.0 357.6,346.0 358.1,346.0 358.6,346.3 359.1,346.6 359.6,346.3 360.1,346.3 360.6,345.9 361.1,346.3 361.6,346.0 362.1,346.3 362.6,345.8 363.1,345.8 363.6,345.8 364.1,345.1 364.6,343.4 365.1,339.6 365.6,331.6 366.0,314.9 366.1,316.9 366.6,330.3 367.1,337.5 367.6,341.6 368.1,342.3 368.6,342.0 369.1,343.6 369.6,344.4 370.1,345.0 370.6,345.0 371.1,345.7 371.6,345.8 372.1,345.7 372.6,346.1 373.1,345.9 373.6,345.9 374.1,346.3 374.6,345.8 375.1,346.5 375.6,346.4 376.1,346.1 376.6,346.4 377.1,346.1 377.6,346.0 378.1,345.9 378.6,346.6 379.1,346.0 379.6,346.2 380.1,346.4 380.6,345.8 381.1,346.4 381.6,346.2 382.1,346.2 382.6,346.0 383.1,346.2 383.6,346.0 384.1,346.4 384.6,346.3 385.1,345.8 385.6,345.3 386.1,345.0 386.6,344.1 387.1,344.7 387.6,344.9 388.1,345.2 388.6,344.9 389.1,344.4 389.6,343.3 390.1,344.3 390.6,345.2 391.1,345.1 391.6,345.9 392.1,345.6 392.6,345.8 393.1,346.3 393.6,345.7 394.1,346.3 394.6,346.3 395.1,346.0 395.6,346.1 396.1,345.9 396.6,346.0 397.1,346.0 397.6,346.0 398.1,346.2 398.6,346.1 399.1,346.2 399.6,346.4 400.1,346.3 400.6,346.2 401.1,346.5 401.6,346.1 402.1,346.3 402.6,345.9 403.1,346.2 403.6,346.1 404.1,345.9 404.6,345.8 405.1,346.2 405.6,345.9 406.1,346.1 406.6,346.2 407.1,346.2 407.6,346.0 408.1,346.1 408.6,346.3 409.1,346.3 409.6,346.2 410.1,346.0 410.6,345.8 411.1,346.1 411.6,346.2 412.1,345.9 412.6,346.0 413.1,346.3 413.6,346.3 414.1,346.3 414.6,346.2 415.1,346.3 415.6,345.9 416.1,346.4 416.6,345.8 417.1,346.1 417.6,345.9 418.1,346.1 418.6,346.2 419.1,346.0 419.6,346.3 420.1,346.3 420.6,346.3 421.1,346.2 421.6,346.0 422.1,346.4 422.6,346.1 423.1,346.3 423.6,345.9 424.1,346.3 424.6,346.1 425.1,346.3 425.6,346.0 426.1,346.5 426.6,346.1 427.1,346.3 427.6,346.0 428.1,346.1 428.6,346.1 429.1,346.3 429.6,346.1 430.1,346.1 430.6,346.3 431.1,346.3 431.6,346.5 432.1,346.2 432.6,346.2 433.1,346.3 433.6,346.5 434.1,346.6 434.6,346.4 435.1,346.0 435.6,346.2 436.1,346.0 436.6,346.3 437.1,346.1 437.6,346.4 438.1,346.2 438.6,346.5 439.1,346.3 439.6,346.2 440.1,346.0 440.6,345.9 441.1,346.1 441.6,346.4 442.1,346.4 442.6,346.0 443.1,346.0 443.6,346.3 444.1,346.4 444.6,346.2 445.1,346.6 445.6,346.0 446.1,346.4 446.6,346.3 447.1,346.4 447.6,346.4 448.1,346.4 448.6,346.1 449.1,346.0 449.6,346.0 450.1,346.3 450.6,346.3 451.1,346.5 451.6,346.3 452.1,346.2 452.6,346.0 453.1,346.2 453.6,346.0"/>
</g>
<polyline fill="none" stroke="#0a0a0a" stroke-width="1.2" stroke-linejoin="round"  points="54.5,418.0 55.2,418.6 56.0,417.6 56.7,418.3 57.4,418.0 58.1,417.9 58.8,418.0 59.5,418.0 60.2,418.3 60.9,418.2 61.6,417.5 62.3,417.5 63.0,418.6 63.7,418.4 64.4,417.7 65.1,418.0 65.8,417.6 66.5,418.3 67.2,417.7 67.9,417.8 68.6,417.3 69.3,417.9 70.0,418.5 70.7,418.4 71.4,418.0 72.1,418.7 72.8,418.5 73.5,418.5 74.2,418.4 74.9,418.3 75.6,417.8 76.3,418.0 77.0,417.8 77.7,417.2 78.4,417.7 79.1,417.3 79.8,418.6 80.5,418.1 81.2,417.8 81.9,418.1 82.6,418.3 83.3,417.5 84.0,418.2 84.7,418.3 85.4,418.5 86.1,418.3 86.8,418.1 87.5,418.1 88.2,418.2 88.9,418.5 89.6,416.5 90.3,418.3 91.0,417.9 91.7,418.4 92.4,418.5 93.1,418.2 93.8,418.2 94.5,417.5 95.2,417.8 95.9,417.8 96.6,417.6 97.3,418.5 98.0,418.4 98.7,418.1 99.4,418.2 100.1,418.0 100.8,417.9 101.5,418.2 102.2,417.6 102.9,418.3 103.6,418.6 104.3,417.8 105.0,417.6 105.7,418.3 106.4,418.0 107.1,418.6 107.8,417.9 108.5,416.7 109.2,417.8 109.9,418.2 110.6,418.4 111.3,418.7 112.0,418.6 112.7,418.1 113.4,418.5 114.1,418.6 114.8,418.0 115.5,418.5 116.2,418.3 116.9,418.7 117.6,418.4 118.3,418.2 119.0,418.6 119.7,417.5 120.4,418.6 121.1,417.9 121.8,418.7 122.5,418.7 123.2,418.7 123.9,418.4 124.6,418.7 125.3,417.9 126.0,418.0 126.7,418.5 127.4,418.4 128.1,418.1 128.8,417.8 129.5,417.8 130.2,418.4 130.9,418.5 131.6,418.3 132.3,418.7 133.0,418.0 133.7,418.1 134.4,417.9 135.1,418.7 135.8,418.6 136.5,418.6 137.2,418.5 137.9,418.8 138.6,418.6 139.3,418.5 140.0,417.9 140.7,418.6 141.4,418.6 142.1,418.4 142.8,418.5 143.5,418.3 144.2,417.9 144.9,418.0 145.6,418.6 146.3,418.6 147.0,418.8 147.7,418.7 148.4,418.7 149.1,418.7 149.8,418.4 150.5,418.1 151.2,418.5 151.9,418.6 152.6,418.3 153.3,418.6 154.0,418.3 154.7,418.5 155.4,418.7 156.1,418.3 156.8,418.6 157.5,418.1 158.2,418.8 158.9,418.4 159.6,418.6 160.3,418.5 161.0,418.2 161.7,418.5 162.4,418.2 163.1,418.0 163.8,418.6 164.5,418.3 165.2,418.8 165.9,418.5 166.6,418.7 167.3,418.8 168.0,418.7 168.7,418.8 169.4,418.7 170.1,418.2 170.8,418.6 171.5,418.7 172.2,417.6 172.9,418.5 173.6,418.4 174.3,418.7 175.0,418.5 175.7,418.3 176.4,418.2 177.1,418.6 177.8,418.5 178.5,418.7 179.2,418.6 179.9,418.7 180.6,418.3 181.3,418.0 182.0,418.7 182.7,418.5 183.4,418.8 184.1,418.3 184.8,418.8 185.5,418.5 186.2,418.5 186.9,418.7 187.6,418.6 188.3,418.6 189.0,418.8 189.7,418.5 190.4,418.2 191.1,418.0 191.8,418.5 192.5,418.5 193.2,418.2 193.9,418.6 194.6,418.6 195.3,418.7 196.0,418.4 196.7,418.2 197.4,418.5 198.1,418.3 198.8,418.7 199.5,418.5 200.2,418.0 200.9,418.5 201.6,418.6 202.3,418.7 203.0,418.4 203.7,418.3 204.4,418.6 205.1,418.5 205.8,418.5 206.5,418.3 207.2,418.6 207.9,418.6 208.6,418.6 209.3,418.4 210.0,418.6 210.7,418.8 211.4,418.8 212.1,418.2 212.8,418.3 213.5,418.4 214.2,418.6 214.9,418.3 215.6,418.6 216.3,418.5 217.0,418.7 217.7,418.7 218.4,418.4 219.1,418.1 219.8,418.3 220.5,418.6 221.2,418.3 221.9,418.3 222.6,418.5 223.3,418.8 224.0,418.6 224.7,418.6 225.4,417.8 226.1,418.6 226.8,417.8 227.5,418.5 228.2,418.3 228.9,418.6 229.6,418.6 230.3,418.6 231.0,417.6 231.7,418.5 232.4,418.8 233.1,418.8 233.8,418.6 234.5,418.1 235.2,417.7 235.9,418.6 236.6,418.6 237.3,418.7 238.0,418.4 238.7,418.6 239.4,418.8 240.1,418.6 240.8,418.7 241.5,418.7 242.2,418.2 242.9,418.6 243.6,418.6 244.3,418.5 245.0,418.6 245.7,418.4 246.4,418.4 247.1,418.5 247.8,418.4 248.5,418.3 249.2,418.2 249.9,418.5 250.6,418.4 251.3,418.6 252.0,418.3 252.7,418.8 253.4,418.1 254.1,418.4 254.8,418.5 255.5,418.5 256.2,418.0 256.9,418.8 257.6,417.9 258.3,418.5 259.0,418.5 259.7,418.6 260.4,418.6 261.1,418.4 261.8,418.2 262.5,418.7 263.2,418.6 263.9,418.8 264.6,418.4 265.3,418.7 266.0,418.4 266.7,418.2 267.4,418.7 268.1,418.6 268.8,417.9 269.5,418.5 270.2,418.0 270.9,418.8 271.6,418.8 272.3,418.7 273.0,418.7 273.7,418.7 274.4,418.7 275.1,418.8 275.8,418.0 276.5,418.5 277.2,418.5 277.9,418.6 278.6,418.2 279.3,418.3 280.0,418.6 280.7,418.3 281.0,418.0 281.6,360.0 282.3,395.0 283.0,409.5 284.0,409.0 285.0,404.5 286.0,404.0 287.0,408.0 288.0,410.0 289.0,399.0 290.0,401.0 291.0,394.0 291.6,405.0 292.0,412.0 293.0,402.0 293.8,410.0 294.5,418.5 295.5,400.0 296.3,408.0 297.0,418.5 298.0,401.0 298.8,406.0 299.5,414.0 300.5,400.0 301.3,409.0 302.0,418.5 303.0,405.0 303.8,407.0 304.5,399.0 305.3,408.0 306.0,418.5 307.0,400.0 307.8,396.5 308.5,394.0 309.3,397.0 310.0,392.5 311.0,396.5 312.0,398.0 313.0,400.5 314.0,403.0 315.0,402.0 316.0,405.0 317.0,404.5 318.0,408.0 319.0,409.0 320.0,406.0 320.8,409.0 321.5,413.0 322.2,407.0 323.0,404.0 324.5,404.5 326.0,402.0 327.0,403.5 328.0,404.0 329.0,402.2 330.0,402.0 331.5,402.8 333.0,401.5 334.5,401.8 336.0,400.0 337.0,401.0 338.0,401.5 339.5,399.8 341.0,399.0 342.5,400.2 344.0,399.5 345.5,398.2 347.0,398.0 348.5,397.5 350.0,396.0 351.0,396.4 352.0,395.0 353.0,396.3 354.0,396.0 355.0,398.0 356.0,399.0 357.0,399.8 358.0,401.0 359.5,401.3 361.0,402.5 362.0,402.0 363.0,403.0 364.5,400.0 365.0,398.0 365.7,353.4 366.5,385.0 367.5,405.0 368.5,412.0 369.3,405.0 370.0,402.0 370.8,411.0 371.5,418.5 372.2,416.0 373.0,413.0 373.6,405.0 374.0,400.0 374.6,411.0 375.0,418.5 376.0,418.8 376.9,418.8 377.8,418.7 378.7,418.8 379.6,418.7 380.5,418.6 381.4,418.8 382.3,418.9 383.2,418.8 384.1,418.7 385.0,418.7 385.9,415.2 386.8,418.8 387.7,418.8 388.6,418.8 389.5,418.8 390.4,418.8 391.3,418.8 392.2,418.7 393.1,418.8 394.0,418.5 394.9,418.8 395.8,418.6 396.7,418.7 397.6,418.7 398.5,418.7 399.4,418.8 400.3,418.8 401.2,418.8 402.1,418.8 403.0,418.7 403.9,418.9 404.8,418.8 405.7,418.8 406.6,418.9 407.5,418.8 408.4,418.9 409.3,418.8 410.2,418.8 411.1,418.7 412.0,418.9 412.9,418.8 413.8,418.8 414.7,418.6 415.6,418.6 416.5,418.8 417.4,418.8 418.3,418.8 419.2,418.8 420.1,418.8 421.0,418.8 421.9,418.8 422.8,418.6 423.7,418.8 424.6,418.7 425.5,418.9 426.4,418.8 427.3,418.8 428.2,418.8 429.1,418.8 430.0,418.7 430.9,418.8 431.8,418.8 432.7,418.7 433.6,418.8 434.5,418.8 435.4,418.8 436.3,418.9 437.2,418.7 438.1,418.6 439.0,418.8 439.9,418.7 440.8,418.7 441.7,418.8 442.6,418.6 443.5,418.8 444.4,418.9 445.3,418.7 446.2,418.9 447.1,418.8 448.0,418.8 448.9,418.8 449.8,418.8 450.7,418.8 451.6,418.5 452.5,418.8 453.4,418.8"/>
<g opacity="0.999" stroke-width="0.3">
<text x="55.0" y="15.6" font-size="16" text-anchor="start" fill="#111" stroke="#111" >JET Pulse No: 82669</text>
<text x="53.6" y="42.2" font-size="16" text-anchor="end" fill="#111" stroke="#111" >2.0</text>
<text x="53.6" y="74.2" font-size="16" text-anchor="end" fill="#111" stroke="#111" >1.0</text>
<text x="53.6" y="104.0" font-size="16" text-anchor="end" fill="#111" stroke="#111" >0</text>
<text x="53.6" y="124.0" font-size="16" text-anchor="end" fill="#111" stroke="#111" >8</text>
<text x="53.6" y="156.5" font-size="16" text-anchor="end" fill="#111" stroke="#111" >4</text>
<text x="53.6" y="198.3" font-size="16" text-anchor="end" fill="#111" stroke="#111" >3.8</text>
<text x="53.6" y="234.8" font-size="16" text-anchor="end" fill="#111" stroke="#111" >3.4</text>
<text x="53.6" y="267.6" font-size="16" text-anchor="end" fill="#111" stroke="#111" >3.0</text>
<text x="53.6" y="308.8" font-size="16" text-anchor="end" fill="#111" stroke="#111" >0.8</text>
<text x="53.6" y="348.3" font-size="16" text-anchor="end" fill="#111" stroke="#111" >0</text>
<text x="53.6" y="383.6" font-size="16" text-anchor="end" fill="#111" stroke="#111" >0.8</text>
<text x="53.6" y="419.5" font-size="16" text-anchor="end" fill="#111" stroke="#111" >0</text>
<text x="54.5" y="433.8" font-size="16" text-anchor="middle" fill="#111" stroke="#111" >21</text>
<text x="134.4" y="433.8" font-size="16" text-anchor="middle" fill="#111" stroke="#111" >22</text>
<text x="214.3" y="433.8" font-size="16" text-anchor="middle" fill="#111" stroke="#111" >23</text>
<text x="294.2" y="433.8" font-size="16" text-anchor="middle" fill="#111" stroke="#111" >24</text>
<text x="374.1" y="433.8" font-size="16" text-anchor="middle" fill="#111" stroke="#111" >25</text>
<text x="454.0" y="433.8" font-size="16" text-anchor="middle" fill="#111" stroke="#111" >26</text>
<text x="254.6" y="452.6" font-size="16" text-anchor="middle" fill="#111" stroke="#111" >Time (s)</text>
<text x="449.8" y="39.0" font-size="16" text-anchor="end" fill="#111" stroke="#111" >(a)</text>
<text x="449.8" y="120.7" font-size="16" text-anchor="end" fill="#111" stroke="#111" >(b)</text>
<text x="449.8" y="201.8" font-size="16" text-anchor="end" fill="#fff" stroke="#fff" >(c)</text>
<text x="449.8" y="285.0" font-size="16" text-anchor="end" fill="#111" stroke="#111" >(d)</text>
<text x="449.8" y="364.2" font-size="16" text-anchor="end" fill="#111" stroke="#111" >(e)</text>
<text x="184.2" y="79.8" font-size="16" text-anchor="start" fill="#fc0006" stroke="#fc0006" >W (a.u.)</text>
<text x="68.6" y="120.0" font-size="16" text-anchor="start" fill="#1c1c8e" stroke="#1c1c8e" >NBI</text>
<text x="395.4" y="173.7" font-size="16" text-anchor="start" fill="#fc0006" stroke="#fc0006" >RAD</text>
<text x="67.0" y="201.5" font-size="16" fill="#fff" stroke="#fff">T<tspan font-size="12.6" dy="3.2">e</tspan><tspan dy="-3.2"> profile</tspan></text>
<text x="66.6" y="285.4" font-size="16" fill="#111" stroke="#111">MHD: <tspan fill="#fc0006" stroke="#fc0006">n=1</tspan>, <tspan fill="#1c1c8e" stroke="#1c1c8e">n=2</tspan></text>
<text x="67.0" y="367.3" font-size="16" text-anchor="start" fill="#111" stroke="#111" >Locked Mode</text>
<text transform="translate(17.0,57.5) rotate(-90)" font-size="16" text-anchor="middle" fill="#111" stroke="#111">I<tspan font-size="11.5" dy="3.6">p</tspan><tspan dy="-3.6"> (MA)</tspan></text>
<text transform="translate(16.6,141.0) rotate(-90)" font-size="16" text-anchor="middle" fill="#111" stroke="#111">P (MW)</text>
<text transform="translate(16.6,224.5) rotate(-90)" font-size="16" text-anchor="middle" fill="#111" stroke="#111">R (m)</text>
<text transform="translate(16.3,303.0) rotate(-90)" font-size="16" text-anchor="middle" fill="#111" stroke="#111">(a.u.)</text>
<text transform="translate(16.3,383.5) rotate(-90)" font-size="16" text-anchor="middle" fill="#111" stroke="#111">(a.u.)</text>
<text transform="translate(463.2,419.6) rotate(-90)" font-size="9" text-anchor="start" fill="#222" stroke="none">JG12.23-1c</text>
</g>
</svg>
</body></html>
